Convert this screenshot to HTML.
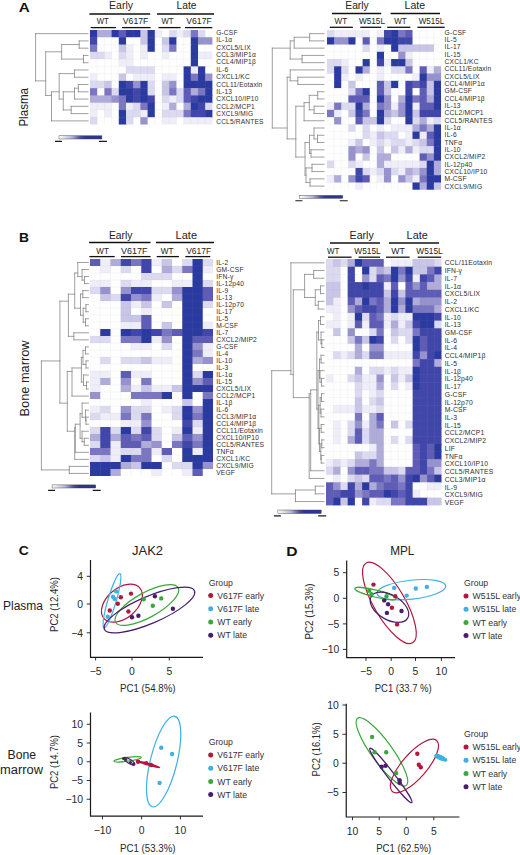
<!DOCTYPE html>
<html><head><meta charset="utf-8"><style>
html,body{margin:0;padding:0;background:#fff;}
svg{display:block;font-family:"Liberation Sans", sans-serif;}
</style></head><body>
<svg width="520" height="855" viewBox="0 0 520 855">
<rect width="520" height="855" fill="#fff"/>
<text x="18.80" y="12.40" font-size="12.60" font-weight="bold" fill="#111" textLength="11.0" lengthAdjust="spacingAndGlyphs">A</text>
<text x="121.00" y="9.40" font-size="10.00" text-anchor="middle" fill="#222" textLength="24.0" lengthAdjust="spacingAndGlyphs">Early</text>
<text x="186.50" y="9.40" font-size="10.00" text-anchor="middle" fill="#222" textLength="20.0" lengthAdjust="spacingAndGlyphs">Late</text>
<path d="M89.40 14.00H150.20" stroke="#111" stroke-width="1.30"/>
<path d="M157.00 14.00H214.00" stroke="#111" stroke-width="1.30"/>
<text x="102.80" y="24.00" font-size="8.60" text-anchor="middle" fill="#222" textLength="12.0" lengthAdjust="spacingAndGlyphs">WT</text>
<text x="135.60" y="24.00" font-size="8.60" text-anchor="middle" fill="#222" textLength="25.5" lengthAdjust="spacingAndGlyphs">V617F</text>
<text x="167.40" y="24.00" font-size="8.60" text-anchor="middle" fill="#222" textLength="12.0" lengthAdjust="spacingAndGlyphs">WT</text>
<text x="199.00" y="24.00" font-size="8.60" text-anchor="middle" fill="#222" textLength="25.5" lengthAdjust="spacingAndGlyphs">V617F</text>
<path d="M90.70 27.60H115.90" stroke="#111" stroke-width="1.30"/>
<path d="M122.00 27.60H150.60" stroke="#111" stroke-width="1.30"/>
<path d="M158.50 27.60H180.60" stroke="#111" stroke-width="1.30"/>
<path d="M185.00 27.60H212.30" stroke="#111" stroke-width="1.30"/>
<rect x="90.00" y="30.00" width="7.80" height="7.87" fill="#2a3aa0"/>
<rect x="97.20" y="30.00" width="7.80" height="7.87" fill="#b0acda"/>
<rect x="104.40" y="30.00" width="7.80" height="7.87" fill="#b0acda"/>
<rect x="111.60" y="30.00" width="7.80" height="7.87" fill="#2a3aa0"/>
<rect x="118.80" y="30.00" width="7.80" height="7.87" fill="#5e5cb6"/>
<rect x="126.00" y="30.00" width="7.80" height="7.87" fill="#2a3aa0"/>
<rect x="133.20" y="30.00" width="7.80" height="7.87" fill="#2a3aa0"/>
<rect x="140.40" y="30.00" width="7.80" height="7.87" fill="#c8c5e6"/>
<rect x="147.60" y="30.00" width="7.80" height="7.87" fill="#2a3aa0"/>
<rect x="154.80" y="30.00" width="7.80" height="7.87" fill="#eeedf8"/>
<rect x="162.00" y="30.00" width="7.80" height="7.87" fill="#fefeff"/>
<rect x="169.20" y="30.00" width="7.80" height="7.87" fill="#dcdaf0"/>
<rect x="176.40" y="30.00" width="7.80" height="7.87" fill="#eeedf8"/>
<rect x="183.60" y="30.00" width="7.80" height="7.87" fill="#dcdaf0"/>
<rect x="190.80" y="30.00" width="7.80" height="7.87" fill="#7a76c2"/>
<rect x="198.00" y="30.00" width="7.80" height="7.87" fill="#dcdaf0"/>
<rect x="205.20" y="30.00" width="7.20" height="7.87" fill="#fefeff"/>
<rect x="90.00" y="37.27" width="7.80" height="7.87" fill="#4046aa"/>
<rect x="97.20" y="37.27" width="7.80" height="7.87" fill="#fefeff"/>
<rect x="104.40" y="37.27" width="7.80" height="7.87" fill="#fefeff"/>
<rect x="111.60" y="37.27" width="7.80" height="7.87" fill="#fefeff"/>
<rect x="118.80" y="37.27" width="7.80" height="7.87" fill="#2a3aa0"/>
<rect x="126.00" y="37.27" width="7.80" height="7.87" fill="#fefeff"/>
<rect x="133.20" y="37.27" width="7.80" height="7.87" fill="#fefeff"/>
<rect x="140.40" y="37.27" width="7.80" height="7.87" fill="#c8c5e6"/>
<rect x="147.60" y="37.27" width="7.80" height="7.87" fill="#2a3aa0"/>
<rect x="154.80" y="37.27" width="7.80" height="7.87" fill="#fefeff"/>
<rect x="162.00" y="37.27" width="7.80" height="7.87" fill="#c8c5e6"/>
<rect x="169.20" y="37.27" width="7.80" height="7.87" fill="#2a3aa0"/>
<rect x="176.40" y="37.27" width="7.80" height="7.87" fill="#fefeff"/>
<rect x="183.60" y="37.27" width="7.80" height="7.87" fill="#fefeff"/>
<rect x="190.80" y="37.27" width="7.80" height="7.87" fill="#2a3aa0"/>
<rect x="198.00" y="37.27" width="7.80" height="7.87" fill="#9692ce"/>
<rect x="205.20" y="37.27" width="7.20" height="7.87" fill="#9692ce"/>
<rect x="90.00" y="44.54" width="7.80" height="7.87" fill="#7a76c2"/>
<rect x="97.20" y="44.54" width="7.80" height="7.87" fill="#fefeff"/>
<rect x="104.40" y="44.54" width="7.80" height="7.87" fill="#fefeff"/>
<rect x="111.60" y="44.54" width="7.80" height="7.87" fill="#fefeff"/>
<rect x="118.80" y="44.54" width="7.80" height="7.87" fill="#c8c5e6"/>
<rect x="126.00" y="44.54" width="7.80" height="7.87" fill="#eeedf8"/>
<rect x="133.20" y="44.54" width="7.80" height="7.87" fill="#fefeff"/>
<rect x="140.40" y="44.54" width="7.80" height="7.87" fill="#eeedf8"/>
<rect x="147.60" y="44.54" width="7.80" height="7.87" fill="#2a3aa0"/>
<rect x="154.80" y="44.54" width="7.80" height="7.87" fill="#fefeff"/>
<rect x="162.00" y="44.54" width="7.80" height="7.87" fill="#dcdaf0"/>
<rect x="169.20" y="44.54" width="7.80" height="7.87" fill="#7a76c2"/>
<rect x="176.40" y="44.54" width="7.80" height="7.87" fill="#fefeff"/>
<rect x="183.60" y="44.54" width="7.80" height="7.87" fill="#fefeff"/>
<rect x="190.80" y="44.54" width="7.80" height="7.87" fill="#2a3aa0"/>
<rect x="198.00" y="44.54" width="7.80" height="7.87" fill="#fefeff"/>
<rect x="205.20" y="44.54" width="7.20" height="7.87" fill="#fefeff"/>
<rect x="90.00" y="51.81" width="7.80" height="7.87" fill="#dcdaf0"/>
<rect x="97.20" y="51.81" width="7.80" height="7.87" fill="#dcdaf0"/>
<rect x="104.40" y="51.81" width="7.80" height="7.87" fill="#eeedf8"/>
<rect x="111.60" y="51.81" width="7.80" height="7.87" fill="#fefeff"/>
<rect x="118.80" y="51.81" width="7.80" height="7.87" fill="#dcdaf0"/>
<rect x="126.00" y="51.81" width="7.80" height="7.87" fill="#eeedf8"/>
<rect x="133.20" y="51.81" width="7.80" height="7.87" fill="#fefeff"/>
<rect x="140.40" y="51.81" width="7.80" height="7.87" fill="#eeedf8"/>
<rect x="147.60" y="51.81" width="7.80" height="7.87" fill="#fefeff"/>
<rect x="154.80" y="51.81" width="7.80" height="7.87" fill="#fefeff"/>
<rect x="162.00" y="51.81" width="7.80" height="7.87" fill="#eeedf8"/>
<rect x="169.20" y="51.81" width="7.80" height="7.87" fill="#fefeff"/>
<rect x="176.40" y="51.81" width="7.80" height="7.87" fill="#fefeff"/>
<rect x="183.60" y="51.81" width="7.80" height="7.87" fill="#fefeff"/>
<rect x="190.80" y="51.81" width="7.80" height="7.87" fill="#2a3aa0"/>
<rect x="198.00" y="51.81" width="7.80" height="7.87" fill="#eeedf8"/>
<rect x="205.20" y="51.81" width="7.20" height="7.87" fill="#eeedf8"/>
<rect x="90.00" y="59.08" width="7.80" height="7.87" fill="#fefeff"/>
<rect x="97.20" y="59.08" width="7.80" height="7.87" fill="#fefeff"/>
<rect x="104.40" y="59.08" width="7.80" height="7.87" fill="#fefeff"/>
<rect x="111.60" y="59.08" width="7.80" height="7.87" fill="#fefeff"/>
<rect x="118.80" y="59.08" width="7.80" height="7.87" fill="#eeedf8"/>
<rect x="126.00" y="59.08" width="7.80" height="7.87" fill="#eeedf8"/>
<rect x="133.20" y="59.08" width="7.80" height="7.87" fill="#fefeff"/>
<rect x="140.40" y="59.08" width="7.80" height="7.87" fill="#fefeff"/>
<rect x="147.60" y="59.08" width="7.80" height="7.87" fill="#fefeff"/>
<rect x="154.80" y="59.08" width="7.80" height="7.87" fill="#fefeff"/>
<rect x="162.00" y="59.08" width="7.80" height="7.87" fill="#fefeff"/>
<rect x="169.20" y="59.08" width="7.80" height="7.87" fill="#fefeff"/>
<rect x="176.40" y="59.08" width="7.80" height="7.87" fill="#fefeff"/>
<rect x="183.60" y="59.08" width="7.80" height="7.87" fill="#fefeff"/>
<rect x="190.80" y="59.08" width="7.80" height="7.87" fill="#2a3aa0"/>
<rect x="198.00" y="59.08" width="7.80" height="7.87" fill="#fefeff"/>
<rect x="205.20" y="59.08" width="7.20" height="7.87" fill="#fefeff"/>
<rect x="90.00" y="66.35" width="7.80" height="7.87" fill="#fefeff"/>
<rect x="97.20" y="66.35" width="7.80" height="7.87" fill="#fefeff"/>
<rect x="104.40" y="66.35" width="7.80" height="7.87" fill="#fefeff"/>
<rect x="111.60" y="66.35" width="7.80" height="7.87" fill="#fefeff"/>
<rect x="118.80" y="66.35" width="7.80" height="7.87" fill="#fefeff"/>
<rect x="126.00" y="66.35" width="7.80" height="7.87" fill="#dcdaf0"/>
<rect x="133.20" y="66.35" width="7.80" height="7.87" fill="#dcdaf0"/>
<rect x="140.40" y="66.35" width="7.80" height="7.87" fill="#dcdaf0"/>
<rect x="147.60" y="66.35" width="7.80" height="7.87" fill="#dcdaf0"/>
<rect x="154.80" y="66.35" width="7.80" height="7.87" fill="#fefeff"/>
<rect x="162.00" y="66.35" width="7.80" height="7.87" fill="#fefeff"/>
<rect x="169.20" y="66.35" width="7.80" height="7.87" fill="#fefeff"/>
<rect x="176.40" y="66.35" width="7.80" height="7.87" fill="#fefeff"/>
<rect x="183.60" y="66.35" width="7.80" height="7.87" fill="#2a3aa0"/>
<rect x="190.80" y="66.35" width="7.80" height="7.87" fill="#eeedf8"/>
<rect x="198.00" y="66.35" width="7.80" height="7.87" fill="#2a3aa0"/>
<rect x="205.20" y="66.35" width="7.20" height="7.87" fill="#fefeff"/>
<rect x="90.00" y="73.62" width="7.80" height="7.87" fill="#eeedf8"/>
<rect x="97.20" y="73.62" width="7.80" height="7.87" fill="#fefeff"/>
<rect x="104.40" y="73.62" width="7.80" height="7.87" fill="#fefeff"/>
<rect x="111.60" y="73.62" width="7.80" height="7.87" fill="#fefeff"/>
<rect x="118.80" y="73.62" width="7.80" height="7.87" fill="#c8c5e6"/>
<rect x="126.00" y="73.62" width="7.80" height="7.87" fill="#fefeff"/>
<rect x="133.20" y="73.62" width="7.80" height="7.87" fill="#eeedf8"/>
<rect x="140.40" y="73.62" width="7.80" height="7.87" fill="#eeedf8"/>
<rect x="147.60" y="73.62" width="7.80" height="7.87" fill="#eeedf8"/>
<rect x="154.80" y="73.62" width="7.80" height="7.87" fill="#fefeff"/>
<rect x="162.00" y="73.62" width="7.80" height="7.87" fill="#eeedf8"/>
<rect x="169.20" y="73.62" width="7.80" height="7.87" fill="#eeedf8"/>
<rect x="176.40" y="73.62" width="7.80" height="7.87" fill="#fefeff"/>
<rect x="183.60" y="73.62" width="7.80" height="7.87" fill="#2a3aa0"/>
<rect x="190.80" y="73.62" width="7.80" height="7.87" fill="#7a76c2"/>
<rect x="198.00" y="73.62" width="7.80" height="7.87" fill="#2a3aa0"/>
<rect x="205.20" y="73.62" width="7.20" height="7.87" fill="#9692ce"/>
<rect x="90.00" y="80.89" width="7.80" height="7.87" fill="#dcdaf0"/>
<rect x="97.20" y="80.89" width="7.80" height="7.87" fill="#dcdaf0"/>
<rect x="104.40" y="80.89" width="7.80" height="7.87" fill="#c8c5e6"/>
<rect x="111.60" y="80.89" width="7.80" height="7.87" fill="#fefeff"/>
<rect x="118.80" y="80.89" width="7.80" height="7.87" fill="#2a3aa0"/>
<rect x="126.00" y="80.89" width="7.80" height="7.87" fill="#4046aa"/>
<rect x="133.20" y="80.89" width="7.80" height="7.87" fill="#9692ce"/>
<rect x="140.40" y="80.89" width="7.80" height="7.87" fill="#2a3aa0"/>
<rect x="147.60" y="80.89" width="7.80" height="7.87" fill="#dcdaf0"/>
<rect x="154.80" y="80.89" width="7.80" height="7.87" fill="#fefeff"/>
<rect x="162.00" y="80.89" width="7.80" height="7.87" fill="#c8c5e6"/>
<rect x="169.20" y="80.89" width="7.80" height="7.87" fill="#9692ce"/>
<rect x="176.40" y="80.89" width="7.80" height="7.87" fill="#fefeff"/>
<rect x="183.60" y="80.89" width="7.80" height="7.87" fill="#2a3aa0"/>
<rect x="190.80" y="80.89" width="7.80" height="7.87" fill="#2a3aa0"/>
<rect x="198.00" y="80.89" width="7.80" height="7.87" fill="#2a3aa0"/>
<rect x="205.20" y="80.89" width="7.20" height="7.87" fill="#2a3aa0"/>
<rect x="90.00" y="88.16" width="7.80" height="7.87" fill="#7a76c2"/>
<rect x="97.20" y="88.16" width="7.80" height="7.87" fill="#fefeff"/>
<rect x="104.40" y="88.16" width="7.80" height="7.87" fill="#7a76c2"/>
<rect x="111.60" y="88.16" width="7.80" height="7.87" fill="#dcdaf0"/>
<rect x="118.80" y="88.16" width="7.80" height="7.87" fill="#2a3aa0"/>
<rect x="126.00" y="88.16" width="7.80" height="7.87" fill="#2a3aa0"/>
<rect x="133.20" y="88.16" width="7.80" height="7.87" fill="#4046aa"/>
<rect x="140.40" y="88.16" width="7.80" height="7.87" fill="#2a3aa0"/>
<rect x="147.60" y="88.16" width="7.80" height="7.87" fill="#dcdaf0"/>
<rect x="154.80" y="88.16" width="7.80" height="7.87" fill="#fefeff"/>
<rect x="162.00" y="88.16" width="7.80" height="7.87" fill="#c8c5e6"/>
<rect x="169.20" y="88.16" width="7.80" height="7.87" fill="#7a76c2"/>
<rect x="176.40" y="88.16" width="7.80" height="7.87" fill="#dcdaf0"/>
<rect x="183.60" y="88.16" width="7.80" height="7.87" fill="#5e5cb6"/>
<rect x="190.80" y="88.16" width="7.80" height="7.87" fill="#b0acda"/>
<rect x="198.00" y="88.16" width="7.80" height="7.87" fill="#7a76c2"/>
<rect x="205.20" y="88.16" width="7.20" height="7.87" fill="#2a3aa0"/>
<rect x="90.00" y="95.43" width="7.80" height="7.87" fill="#b0acda"/>
<rect x="97.20" y="95.43" width="7.80" height="7.87" fill="#b0acda"/>
<rect x="104.40" y="95.43" width="7.80" height="7.87" fill="#b0acda"/>
<rect x="111.60" y="95.43" width="7.80" height="7.87" fill="#9692ce"/>
<rect x="118.80" y="95.43" width="7.80" height="7.87" fill="#7a76c2"/>
<rect x="126.00" y="95.43" width="7.80" height="7.87" fill="#2a3aa0"/>
<rect x="133.20" y="95.43" width="7.80" height="7.87" fill="#4046aa"/>
<rect x="140.40" y="95.43" width="7.80" height="7.87" fill="#2a3aa0"/>
<rect x="147.60" y="95.43" width="7.80" height="7.87" fill="#4046aa"/>
<rect x="154.80" y="95.43" width="7.80" height="7.87" fill="#fefeff"/>
<rect x="162.00" y="95.43" width="7.80" height="7.87" fill="#dcdaf0"/>
<rect x="169.20" y="95.43" width="7.80" height="7.87" fill="#eeedf8"/>
<rect x="176.40" y="95.43" width="7.80" height="7.87" fill="#dcdaf0"/>
<rect x="183.60" y="95.43" width="7.80" height="7.87" fill="#5e5cb6"/>
<rect x="190.80" y="95.43" width="7.80" height="7.87" fill="#4046aa"/>
<rect x="198.00" y="95.43" width="7.80" height="7.87" fill="#2a3aa0"/>
<rect x="205.20" y="95.43" width="7.20" height="7.87" fill="#2a3aa0"/>
<rect x="90.00" y="102.70" width="7.80" height="7.87" fill="#eeedf8"/>
<rect x="97.20" y="102.70" width="7.80" height="7.87" fill="#eeedf8"/>
<rect x="104.40" y="102.70" width="7.80" height="7.87" fill="#eeedf8"/>
<rect x="111.60" y="102.70" width="7.80" height="7.87" fill="#fefeff"/>
<rect x="118.80" y="102.70" width="7.80" height="7.87" fill="#7a76c2"/>
<rect x="126.00" y="102.70" width="7.80" height="7.87" fill="#eeedf8"/>
<rect x="133.20" y="102.70" width="7.80" height="7.87" fill="#dcdaf0"/>
<rect x="140.40" y="102.70" width="7.80" height="7.87" fill="#7a76c2"/>
<rect x="147.60" y="102.70" width="7.80" height="7.87" fill="#2a3aa0"/>
<rect x="154.80" y="102.70" width="7.80" height="7.87" fill="#fefeff"/>
<rect x="162.00" y="102.70" width="7.80" height="7.87" fill="#eeedf8"/>
<rect x="169.20" y="102.70" width="7.80" height="7.87" fill="#b0acda"/>
<rect x="176.40" y="102.70" width="7.80" height="7.87" fill="#fefeff"/>
<rect x="183.60" y="102.70" width="7.80" height="7.87" fill="#b0acda"/>
<rect x="190.80" y="102.70" width="7.80" height="7.87" fill="#2a3aa0"/>
<rect x="198.00" y="102.70" width="7.80" height="7.87" fill="#4046aa"/>
<rect x="205.20" y="102.70" width="7.20" height="7.87" fill="#dcdaf0"/>
<rect x="90.00" y="109.97" width="7.80" height="7.87" fill="#eeedf8"/>
<rect x="97.20" y="109.97" width="7.80" height="7.87" fill="#fefeff"/>
<rect x="104.40" y="109.97" width="7.80" height="7.87" fill="#eeedf8"/>
<rect x="111.60" y="109.97" width="7.80" height="7.87" fill="#fefeff"/>
<rect x="118.80" y="109.97" width="7.80" height="7.87" fill="#2a3aa0"/>
<rect x="126.00" y="109.97" width="7.80" height="7.87" fill="#dcdaf0"/>
<rect x="133.20" y="109.97" width="7.80" height="7.87" fill="#dcdaf0"/>
<rect x="140.40" y="109.97" width="7.80" height="7.87" fill="#eeedf8"/>
<rect x="147.60" y="109.97" width="7.80" height="7.87" fill="#2a3aa0"/>
<rect x="154.80" y="109.97" width="7.80" height="7.87" fill="#fefeff"/>
<rect x="162.00" y="109.97" width="7.80" height="7.87" fill="#dcdaf0"/>
<rect x="169.20" y="109.97" width="7.80" height="7.87" fill="#dcdaf0"/>
<rect x="176.40" y="109.97" width="7.80" height="7.87" fill="#dcdaf0"/>
<rect x="183.60" y="109.97" width="7.80" height="7.87" fill="#7a76c2"/>
<rect x="190.80" y="109.97" width="7.80" height="7.87" fill="#4046aa"/>
<rect x="198.00" y="109.97" width="7.80" height="7.87" fill="#4046aa"/>
<rect x="205.20" y="109.97" width="7.20" height="7.87" fill="#2a3aa0"/>
<rect x="90.00" y="117.24" width="7.80" height="7.27" fill="#dcdaf0"/>
<rect x="97.20" y="117.24" width="7.80" height="7.27" fill="#fefeff"/>
<rect x="104.40" y="117.24" width="7.80" height="7.27" fill="#fefeff"/>
<rect x="111.60" y="117.24" width="7.80" height="7.27" fill="#fefeff"/>
<rect x="118.80" y="117.24" width="7.80" height="7.27" fill="#2a3aa0"/>
<rect x="126.00" y="117.24" width="7.80" height="7.27" fill="#dcdaf0"/>
<rect x="133.20" y="117.24" width="7.80" height="7.27" fill="#fefeff"/>
<rect x="140.40" y="117.24" width="7.80" height="7.27" fill="#9692ce"/>
<rect x="147.60" y="117.24" width="7.80" height="7.27" fill="#fefeff"/>
<rect x="154.80" y="117.24" width="7.80" height="7.27" fill="#fefeff"/>
<rect x="162.00" y="117.24" width="7.80" height="7.27" fill="#eeedf8"/>
<rect x="169.20" y="117.24" width="7.80" height="7.27" fill="#eeedf8"/>
<rect x="176.40" y="117.24" width="7.80" height="7.27" fill="#fefeff"/>
<rect x="183.60" y="117.24" width="7.80" height="7.27" fill="#eeedf8"/>
<rect x="190.80" y="117.24" width="7.80" height="7.27" fill="#eeedf8"/>
<rect x="198.00" y="117.24" width="7.80" height="7.27" fill="#eeedf8"/>
<rect x="205.20" y="117.24" width="7.20" height="7.27" fill="#eeedf8"/>
<path d="M97.20 30.00V124.51M104.40 30.00V124.51M111.60 30.00V124.51M118.80 30.00V124.51M126.00 30.00V124.51M133.20 30.00V124.51M140.40 30.00V124.51M147.60 30.00V124.51M154.80 30.00V124.51M162.00 30.00V124.51M169.20 30.00V124.51M176.40 30.00V124.51M183.60 30.00V124.51M190.80 30.00V124.51M198.00 30.00V124.51M205.20 30.00V124.51M90.00 37.27H212.40M90.00 44.54H212.40M90.00 51.81H212.40M90.00 59.08H212.40M90.00 66.35H212.40M90.00 73.62H212.40M90.00 80.89H212.40M90.00 88.16H212.40M90.00 95.43H212.40M90.00 102.70H212.40M90.00 109.97H212.40M90.00 117.24H212.40" stroke="#999" stroke-opacity="0.14" stroke-width="0.5" fill="none"/>
<text x="216.20" y="34.85" font-size="6.60" fill="#2e2e2e" letter-spacing="0.18">G-CSF</text>
<text x="216.20" y="42.24" font-size="6.60" fill="#2e2e2e" letter-spacing="0.18">IL-1α</text>
<text x="216.20" y="49.63" font-size="6.60" fill="#2e2e2e" letter-spacing="0.18">CXCL5/LIX</text>
<text x="216.20" y="57.02" font-size="6.60" fill="#2e2e2e" letter-spacing="0.18">CCL3/MIP1α</text>
<text x="216.20" y="64.41" font-size="6.60" fill="#2e2e2e" letter-spacing="0.18">CCL4/MIP1β</text>
<text x="216.20" y="71.80" font-size="6.60" fill="#2e2e2e" letter-spacing="0.18">IL-6</text>
<text x="216.20" y="79.19" font-size="6.60" fill="#2e2e2e" letter-spacing="0.18">CXCL1/KC</text>
<text x="216.20" y="86.58" font-size="6.60" fill="#2e2e2e" letter-spacing="0.18">CCL11/Eotaxin</text>
<text x="216.20" y="93.97" font-size="6.60" fill="#2e2e2e" letter-spacing="0.18">IL-13</text>
<text x="216.20" y="101.36" font-size="6.60" fill="#2e2e2e" letter-spacing="0.18">CXCL10/IP10</text>
<text x="216.20" y="108.75" font-size="6.60" fill="#2e2e2e" letter-spacing="0.18">CCL2/MCP1</text>
<text x="216.20" y="116.14" font-size="6.60" fill="#2e2e2e" letter-spacing="0.18">CXCL9/MIG</text>
<text x="216.20" y="123.53" font-size="6.60" fill="#2e2e2e" letter-spacing="0.18">CCL5/RANTES</text>
<path d="M88.00 40.91H79.20M88.00 48.17H79.20M79.20 40.91V48.17M88.00 55.45H83.50M88.00 62.71H83.50M83.50 55.45V62.71M79.20 44.54H61.60M83.50 59.08H61.60M61.60 44.54V59.08M88.00 69.98H74.50M88.00 77.25H74.50M74.50 69.98V77.25M88.00 84.53H78.40M88.00 91.79H78.40M78.40 84.53V91.79M78.40 88.16H74.50M88.00 99.06H74.50M74.50 88.16V99.06M88.00 106.33H71.20M88.00 113.60H71.20M71.20 106.33V113.60M74.50 91.80H63.30M71.20 109.97H63.30M63.30 91.80V109.97M74.50 73.62H59.20M63.30 99.06H59.20M59.20 73.62V99.06M59.20 91.79H51.50M88.00 120.88H51.50M51.50 91.79V120.88M61.60 51.81H45.70M51.50 95.43H45.70M45.70 51.81V95.43M88.00 33.63H35.60M45.70 80.89H35.60M35.60 33.63V80.89" stroke="#888888" stroke-width="0.80" fill="none" stroke-linecap="square"/>
<text transform="translate(28.1 107.3) rotate(-90)" font-size="12" text-anchor="middle" fill="#222" textLength="38.6" lengthAdjust="spacingAndGlyphs">Plasma</text>
<defs><linearGradient id="g250" x1="0" x2="1" y1="0" y2="0"><stop offset="0" stop-color="#ffffff"/><stop offset="0.3" stop-color="#b4b4d6"/><stop offset="0.5" stop-color="#4a4c9a"/><stop offset="0.62" stop-color="#2e3490"/><stop offset="1" stop-color="#2c3592"/></linearGradient></defs>
<rect x="59.00" y="135.80" width="42.90" height="3.20" fill="url(#g250)" stroke="#333" stroke-width="0.4"/>
<path d="M55.00 141.40H62.00M98.90 141.40H106.90" stroke="#1a1a1a" stroke-width="1.1"/>
<text x="357.00" y="9.40" font-size="10.00" text-anchor="middle" fill="#222" textLength="23.5" lengthAdjust="spacingAndGlyphs">Early</text>
<text x="414.80" y="9.40" font-size="10.00" text-anchor="middle" fill="#222" textLength="20.5" lengthAdjust="spacingAndGlyphs">Late</text>
<path d="M332.00 13.50H381.20" stroke="#111" stroke-width="1.30"/>
<path d="M390.60 13.50H440.00" stroke="#111" stroke-width="1.30"/>
<text x="340.80" y="24.00" font-size="8.60" text-anchor="middle" fill="#222" textLength="12.5" lengthAdjust="spacingAndGlyphs">WT</text>
<text x="372.00" y="24.00" font-size="8.60" text-anchor="middle" fill="#222" textLength="26.0" lengthAdjust="spacingAndGlyphs">W515L</text>
<text x="400.50" y="24.00" font-size="8.60" text-anchor="middle" fill="#222" textLength="12.5" lengthAdjust="spacingAndGlyphs">WT</text>
<text x="431.50" y="24.00" font-size="8.60" text-anchor="middle" fill="#222" textLength="25.5" lengthAdjust="spacingAndGlyphs">W515L</text>
<path d="M329.80 27.30H352.90" stroke="#111" stroke-width="1.30"/>
<path d="M360.30 27.30H381.20" stroke="#111" stroke-width="1.30"/>
<path d="M387.20 27.30H410.40" stroke="#111" stroke-width="1.30"/>
<path d="M417.40 27.30H444.70" stroke="#111" stroke-width="1.30"/>
<rect x="327.00" y="30.00" width="7.72" height="7.86" fill="#dcdaf0"/>
<rect x="334.12" y="30.00" width="7.72" height="7.86" fill="#eeedf8"/>
<rect x="341.25" y="30.00" width="7.72" height="7.86" fill="#eeedf8"/>
<rect x="348.38" y="30.00" width="7.72" height="7.86" fill="#eeedf8"/>
<rect x="355.50" y="30.00" width="7.72" height="7.86" fill="#eeedf8"/>
<rect x="362.62" y="30.00" width="7.72" height="7.86" fill="#eeedf8"/>
<rect x="369.75" y="30.00" width="7.72" height="7.86" fill="#fefeff"/>
<rect x="376.88" y="30.00" width="7.72" height="7.86" fill="#eeedf8"/>
<rect x="384.00" y="30.00" width="7.72" height="7.86" fill="#4046aa"/>
<rect x="391.12" y="30.00" width="7.72" height="7.86" fill="#2a3aa0"/>
<rect x="398.25" y="30.00" width="7.72" height="7.86" fill="#7a76c2"/>
<rect x="405.38" y="30.00" width="7.72" height="7.86" fill="#5e5cb6"/>
<rect x="412.50" y="30.00" width="7.72" height="7.86" fill="#fefeff"/>
<rect x="419.62" y="30.00" width="7.72" height="7.86" fill="#fefeff"/>
<rect x="426.75" y="30.00" width="7.72" height="7.86" fill="#fefeff"/>
<rect x="433.88" y="30.00" width="7.12" height="7.86" fill="#fefeff"/>
<rect x="327.00" y="37.26" width="7.72" height="7.86" fill="#2a3aa0"/>
<rect x="334.12" y="37.26" width="7.72" height="7.86" fill="#9692ce"/>
<rect x="341.25" y="37.26" width="7.72" height="7.86" fill="#9692ce"/>
<rect x="348.38" y="37.26" width="7.72" height="7.86" fill="#2a3aa0"/>
<rect x="355.50" y="37.26" width="7.72" height="7.86" fill="#fefeff"/>
<rect x="362.62" y="37.26" width="7.72" height="7.86" fill="#5e5cb6"/>
<rect x="369.75" y="37.26" width="7.72" height="7.86" fill="#fefeff"/>
<rect x="376.88" y="37.26" width="7.72" height="7.86" fill="#7a76c2"/>
<rect x="384.00" y="37.26" width="7.72" height="7.86" fill="#2a3aa0"/>
<rect x="391.12" y="37.26" width="7.72" height="7.86" fill="#2a3aa0"/>
<rect x="398.25" y="37.26" width="7.72" height="7.86" fill="#4046aa"/>
<rect x="405.38" y="37.26" width="7.72" height="7.86" fill="#4046aa"/>
<rect x="412.50" y="37.26" width="7.72" height="7.86" fill="#fefeff"/>
<rect x="419.62" y="37.26" width="7.72" height="7.86" fill="#fefeff"/>
<rect x="426.75" y="37.26" width="7.72" height="7.86" fill="#fefeff"/>
<rect x="433.88" y="37.26" width="7.12" height="7.86" fill="#fefeff"/>
<rect x="327.00" y="44.52" width="7.72" height="7.86" fill="#fefeff"/>
<rect x="334.12" y="44.52" width="7.72" height="7.86" fill="#fefeff"/>
<rect x="341.25" y="44.52" width="7.72" height="7.86" fill="#fefeff"/>
<rect x="348.38" y="44.52" width="7.72" height="7.86" fill="#fefeff"/>
<rect x="355.50" y="44.52" width="7.72" height="7.86" fill="#fefeff"/>
<rect x="362.62" y="44.52" width="7.72" height="7.86" fill="#dcdaf0"/>
<rect x="369.75" y="44.52" width="7.72" height="7.86" fill="#fefeff"/>
<rect x="376.88" y="44.52" width="7.72" height="7.86" fill="#eeedf8"/>
<rect x="384.00" y="44.52" width="7.72" height="7.86" fill="#fefeff"/>
<rect x="391.12" y="44.52" width="7.72" height="7.86" fill="#2a3aa0"/>
<rect x="398.25" y="44.52" width="7.72" height="7.86" fill="#c8c5e6"/>
<rect x="405.38" y="44.52" width="7.72" height="7.86" fill="#c8c5e6"/>
<rect x="412.50" y="44.52" width="7.72" height="7.86" fill="#c8c5e6"/>
<rect x="419.62" y="44.52" width="7.72" height="7.86" fill="#c8c5e6"/>
<rect x="426.75" y="44.52" width="7.72" height="7.86" fill="#c8c5e6"/>
<rect x="433.88" y="44.52" width="7.12" height="7.86" fill="#fefeff"/>
<rect x="327.00" y="51.78" width="7.72" height="7.86" fill="#fefeff"/>
<rect x="334.12" y="51.78" width="7.72" height="7.86" fill="#fefeff"/>
<rect x="341.25" y="51.78" width="7.72" height="7.86" fill="#fefeff"/>
<rect x="348.38" y="51.78" width="7.72" height="7.86" fill="#fefeff"/>
<rect x="355.50" y="51.78" width="7.72" height="7.86" fill="#fefeff"/>
<rect x="362.62" y="51.78" width="7.72" height="7.86" fill="#fefeff"/>
<rect x="369.75" y="51.78" width="7.72" height="7.86" fill="#fefeff"/>
<rect x="376.88" y="51.78" width="7.72" height="7.86" fill="#2a3aa0"/>
<rect x="384.00" y="51.78" width="7.72" height="7.86" fill="#fefeff"/>
<rect x="391.12" y="51.78" width="7.72" height="7.86" fill="#fefeff"/>
<rect x="398.25" y="51.78" width="7.72" height="7.86" fill="#9692ce"/>
<rect x="405.38" y="51.78" width="7.72" height="7.86" fill="#eeedf8"/>
<rect x="412.50" y="51.78" width="7.72" height="7.86" fill="#fefeff"/>
<rect x="419.62" y="51.78" width="7.72" height="7.86" fill="#fefeff"/>
<rect x="426.75" y="51.78" width="7.72" height="7.86" fill="#fefeff"/>
<rect x="433.88" y="51.78" width="7.12" height="7.86" fill="#fefeff"/>
<rect x="327.00" y="59.04" width="7.72" height="7.86" fill="#dcdaf0"/>
<rect x="334.12" y="59.04" width="7.72" height="7.86" fill="#dcdaf0"/>
<rect x="341.25" y="59.04" width="7.72" height="7.86" fill="#eeedf8"/>
<rect x="348.38" y="59.04" width="7.72" height="7.86" fill="#fefeff"/>
<rect x="355.50" y="59.04" width="7.72" height="7.86" fill="#fefeff"/>
<rect x="362.62" y="59.04" width="7.72" height="7.86" fill="#2a3aa0"/>
<rect x="369.75" y="59.04" width="7.72" height="7.86" fill="#fefeff"/>
<rect x="376.88" y="59.04" width="7.72" height="7.86" fill="#4046aa"/>
<rect x="384.00" y="59.04" width="7.72" height="7.86" fill="#eeedf8"/>
<rect x="391.12" y="59.04" width="7.72" height="7.86" fill="#2a3aa0"/>
<rect x="398.25" y="59.04" width="7.72" height="7.86" fill="#2a3aa0"/>
<rect x="405.38" y="59.04" width="7.72" height="7.86" fill="#c8c5e6"/>
<rect x="412.50" y="59.04" width="7.72" height="7.86" fill="#fefeff"/>
<rect x="419.62" y="59.04" width="7.72" height="7.86" fill="#fefeff"/>
<rect x="426.75" y="59.04" width="7.72" height="7.86" fill="#fefeff"/>
<rect x="433.88" y="59.04" width="7.12" height="7.86" fill="#fefeff"/>
<rect x="327.00" y="66.30" width="7.72" height="7.86" fill="#dcdaf0"/>
<rect x="334.12" y="66.30" width="7.72" height="7.86" fill="#2a3aa0"/>
<rect x="341.25" y="66.30" width="7.72" height="7.86" fill="#dcdaf0"/>
<rect x="348.38" y="66.30" width="7.72" height="7.86" fill="#fefeff"/>
<rect x="355.50" y="66.30" width="7.72" height="7.86" fill="#2a3aa0"/>
<rect x="362.62" y="66.30" width="7.72" height="7.86" fill="#b0acda"/>
<rect x="369.75" y="66.30" width="7.72" height="7.86" fill="#fefeff"/>
<rect x="376.88" y="66.30" width="7.72" height="7.86" fill="#eeedf8"/>
<rect x="384.00" y="66.30" width="7.72" height="7.86" fill="#fefeff"/>
<rect x="391.12" y="66.30" width="7.72" height="7.86" fill="#dcdaf0"/>
<rect x="398.25" y="66.30" width="7.72" height="7.86" fill="#dcdaf0"/>
<rect x="405.38" y="66.30" width="7.72" height="7.86" fill="#7a76c2"/>
<rect x="412.50" y="66.30" width="7.72" height="7.86" fill="#fefeff"/>
<rect x="419.62" y="66.30" width="7.72" height="7.86" fill="#5e5cb6"/>
<rect x="426.75" y="66.30" width="7.72" height="7.86" fill="#eeedf8"/>
<rect x="433.88" y="66.30" width="7.12" height="7.86" fill="#b0acda"/>
<rect x="327.00" y="73.56" width="7.72" height="7.86" fill="#fefeff"/>
<rect x="334.12" y="73.56" width="7.72" height="7.86" fill="#2a3aa0"/>
<rect x="341.25" y="73.56" width="7.72" height="7.86" fill="#eeedf8"/>
<rect x="348.38" y="73.56" width="7.72" height="7.86" fill="#fefeff"/>
<rect x="355.50" y="73.56" width="7.72" height="7.86" fill="#eeedf8"/>
<rect x="362.62" y="73.56" width="7.72" height="7.86" fill="#fefeff"/>
<rect x="369.75" y="73.56" width="7.72" height="7.86" fill="#fefeff"/>
<rect x="376.88" y="73.56" width="7.72" height="7.86" fill="#eeedf8"/>
<rect x="384.00" y="73.56" width="7.72" height="7.86" fill="#fefeff"/>
<rect x="391.12" y="73.56" width="7.72" height="7.86" fill="#fefeff"/>
<rect x="398.25" y="73.56" width="7.72" height="7.86" fill="#fefeff"/>
<rect x="405.38" y="73.56" width="7.72" height="7.86" fill="#fefeff"/>
<rect x="412.50" y="73.56" width="7.72" height="7.86" fill="#eeedf8"/>
<rect x="419.62" y="73.56" width="7.72" height="7.86" fill="#2a3aa0"/>
<rect x="426.75" y="73.56" width="7.72" height="7.86" fill="#9692ce"/>
<rect x="433.88" y="73.56" width="7.12" height="7.86" fill="#9692ce"/>
<rect x="327.00" y="80.82" width="7.72" height="7.86" fill="#fefeff"/>
<rect x="334.12" y="80.82" width="7.72" height="7.86" fill="#2a3aa0"/>
<rect x="341.25" y="80.82" width="7.72" height="7.86" fill="#fefeff"/>
<rect x="348.38" y="80.82" width="7.72" height="7.86" fill="#c8c5e6"/>
<rect x="355.50" y="80.82" width="7.72" height="7.86" fill="#fefeff"/>
<rect x="362.62" y="80.82" width="7.72" height="7.86" fill="#fefeff"/>
<rect x="369.75" y="80.82" width="7.72" height="7.86" fill="#fefeff"/>
<rect x="376.88" y="80.82" width="7.72" height="7.86" fill="#5e5cb6"/>
<rect x="384.00" y="80.82" width="7.72" height="7.86" fill="#c8c5e6"/>
<rect x="391.12" y="80.82" width="7.72" height="7.86" fill="#2a3aa0"/>
<rect x="398.25" y="80.82" width="7.72" height="7.86" fill="#fefeff"/>
<rect x="405.38" y="80.82" width="7.72" height="7.86" fill="#4046aa"/>
<rect x="412.50" y="80.82" width="7.72" height="7.86" fill="#5e5cb6"/>
<rect x="419.62" y="80.82" width="7.72" height="7.86" fill="#4046aa"/>
<rect x="426.75" y="80.82" width="7.72" height="7.86" fill="#c8c5e6"/>
<rect x="433.88" y="80.82" width="7.12" height="7.86" fill="#2a3aa0"/>
<rect x="327.00" y="88.08" width="7.72" height="7.86" fill="#fefeff"/>
<rect x="334.12" y="88.08" width="7.72" height="7.86" fill="#fefeff"/>
<rect x="341.25" y="88.08" width="7.72" height="7.86" fill="#fefeff"/>
<rect x="348.38" y="88.08" width="7.72" height="7.86" fill="#dcdaf0"/>
<rect x="355.50" y="88.08" width="7.72" height="7.86" fill="#7a76c2"/>
<rect x="362.62" y="88.08" width="7.72" height="7.86" fill="#2a3aa0"/>
<rect x="369.75" y="88.08" width="7.72" height="7.86" fill="#fefeff"/>
<rect x="376.88" y="88.08" width="7.72" height="7.86" fill="#5e5cb6"/>
<rect x="384.00" y="88.08" width="7.72" height="7.86" fill="#c8c5e6"/>
<rect x="391.12" y="88.08" width="7.72" height="7.86" fill="#fefeff"/>
<rect x="398.25" y="88.08" width="7.72" height="7.86" fill="#fefeff"/>
<rect x="405.38" y="88.08" width="7.72" height="7.86" fill="#4046aa"/>
<rect x="412.50" y="88.08" width="7.72" height="7.86" fill="#fefeff"/>
<rect x="419.62" y="88.08" width="7.72" height="7.86" fill="#5e5cb6"/>
<rect x="426.75" y="88.08" width="7.72" height="7.86" fill="#c8c5e6"/>
<rect x="433.88" y="88.08" width="7.12" height="7.86" fill="#2a3aa0"/>
<rect x="327.00" y="95.34" width="7.72" height="7.86" fill="#fefeff"/>
<rect x="334.12" y="95.34" width="7.72" height="7.86" fill="#fefeff"/>
<rect x="341.25" y="95.34" width="7.72" height="7.86" fill="#fefeff"/>
<rect x="348.38" y="95.34" width="7.72" height="7.86" fill="#5e5cb6"/>
<rect x="355.50" y="95.34" width="7.72" height="7.86" fill="#5e5cb6"/>
<rect x="362.62" y="95.34" width="7.72" height="7.86" fill="#5e5cb6"/>
<rect x="369.75" y="95.34" width="7.72" height="7.86" fill="#fefeff"/>
<rect x="376.88" y="95.34" width="7.72" height="7.86" fill="#2a3aa0"/>
<rect x="384.00" y="95.34" width="7.72" height="7.86" fill="#9692ce"/>
<rect x="391.12" y="95.34" width="7.72" height="7.86" fill="#fefeff"/>
<rect x="398.25" y="95.34" width="7.72" height="7.86" fill="#b0acda"/>
<rect x="405.38" y="95.34" width="7.72" height="7.86" fill="#2a3aa0"/>
<rect x="412.50" y="95.34" width="7.72" height="7.86" fill="#7a76c2"/>
<rect x="419.62" y="95.34" width="7.72" height="7.86" fill="#5e5cb6"/>
<rect x="426.75" y="95.34" width="7.72" height="7.86" fill="#b0acda"/>
<rect x="433.88" y="95.34" width="7.12" height="7.86" fill="#2a3aa0"/>
<rect x="327.00" y="102.60" width="7.72" height="7.86" fill="#eeedf8"/>
<rect x="334.12" y="102.60" width="7.72" height="7.86" fill="#7a76c2"/>
<rect x="341.25" y="102.60" width="7.72" height="7.86" fill="#dcdaf0"/>
<rect x="348.38" y="102.60" width="7.72" height="7.86" fill="#dcdaf0"/>
<rect x="355.50" y="102.60" width="7.72" height="7.86" fill="#2a3aa0"/>
<rect x="362.62" y="102.60" width="7.72" height="7.86" fill="#b0acda"/>
<rect x="369.75" y="102.60" width="7.72" height="7.86" fill="#fefeff"/>
<rect x="376.88" y="102.60" width="7.72" height="7.86" fill="#7a76c2"/>
<rect x="384.00" y="102.60" width="7.72" height="7.86" fill="#9692ce"/>
<rect x="391.12" y="102.60" width="7.72" height="7.86" fill="#eeedf8"/>
<rect x="398.25" y="102.60" width="7.72" height="7.86" fill="#9692ce"/>
<rect x="405.38" y="102.60" width="7.72" height="7.86" fill="#2a3aa0"/>
<rect x="412.50" y="102.60" width="7.72" height="7.86" fill="#eeedf8"/>
<rect x="419.62" y="102.60" width="7.72" height="7.86" fill="#5e5cb6"/>
<rect x="426.75" y="102.60" width="7.72" height="7.86" fill="#5e5cb6"/>
<rect x="433.88" y="102.60" width="7.12" height="7.86" fill="#2a3aa0"/>
<rect x="327.00" y="109.86" width="7.72" height="7.86" fill="#7a76c2"/>
<rect x="334.12" y="109.86" width="7.72" height="7.86" fill="#eeedf8"/>
<rect x="341.25" y="109.86" width="7.72" height="7.86" fill="#fefeff"/>
<rect x="348.38" y="109.86" width="7.72" height="7.86" fill="#c8c5e6"/>
<rect x="355.50" y="109.86" width="7.72" height="7.86" fill="#4046aa"/>
<rect x="362.62" y="109.86" width="7.72" height="7.86" fill="#7a76c2"/>
<rect x="369.75" y="109.86" width="7.72" height="7.86" fill="#fefeff"/>
<rect x="376.88" y="109.86" width="7.72" height="7.86" fill="#2a3aa0"/>
<rect x="384.00" y="109.86" width="7.72" height="7.86" fill="#b0acda"/>
<rect x="391.12" y="109.86" width="7.72" height="7.86" fill="#c8c5e6"/>
<rect x="398.25" y="109.86" width="7.72" height="7.86" fill="#9692ce"/>
<rect x="405.38" y="109.86" width="7.72" height="7.86" fill="#2a3aa0"/>
<rect x="412.50" y="109.86" width="7.72" height="7.86" fill="#c8c5e6"/>
<rect x="419.62" y="109.86" width="7.72" height="7.86" fill="#4046aa"/>
<rect x="426.75" y="109.86" width="7.72" height="7.86" fill="#4046aa"/>
<rect x="433.88" y="109.86" width="7.12" height="7.86" fill="#4046aa"/>
<rect x="327.00" y="117.12" width="7.72" height="7.86" fill="#fefeff"/>
<rect x="334.12" y="117.12" width="7.72" height="7.86" fill="#9692ce"/>
<rect x="341.25" y="117.12" width="7.72" height="7.86" fill="#fefeff"/>
<rect x="348.38" y="117.12" width="7.72" height="7.86" fill="#fefeff"/>
<rect x="355.50" y="117.12" width="7.72" height="7.86" fill="#5e5cb6"/>
<rect x="362.62" y="117.12" width="7.72" height="7.86" fill="#c8c5e6"/>
<rect x="369.75" y="117.12" width="7.72" height="7.86" fill="#c8c5e6"/>
<rect x="376.88" y="117.12" width="7.72" height="7.86" fill="#2a3aa0"/>
<rect x="384.00" y="117.12" width="7.72" height="7.86" fill="#dcdaf0"/>
<rect x="391.12" y="117.12" width="7.72" height="7.86" fill="#fefeff"/>
<rect x="398.25" y="117.12" width="7.72" height="7.86" fill="#fefeff"/>
<rect x="405.38" y="117.12" width="7.72" height="7.86" fill="#2a3aa0"/>
<rect x="412.50" y="117.12" width="7.72" height="7.86" fill="#dcdaf0"/>
<rect x="419.62" y="117.12" width="7.72" height="7.86" fill="#b0acda"/>
<rect x="426.75" y="117.12" width="7.72" height="7.86" fill="#eeedf8"/>
<rect x="433.88" y="117.12" width="7.12" height="7.86" fill="#dcdaf0"/>
<rect x="327.00" y="124.38" width="7.72" height="7.86" fill="#fefeff"/>
<rect x="334.12" y="124.38" width="7.72" height="7.86" fill="#fefeff"/>
<rect x="341.25" y="124.38" width="7.72" height="7.86" fill="#fefeff"/>
<rect x="348.38" y="124.38" width="7.72" height="7.86" fill="#dcdaf0"/>
<rect x="355.50" y="124.38" width="7.72" height="7.86" fill="#fefeff"/>
<rect x="362.62" y="124.38" width="7.72" height="7.86" fill="#dcdaf0"/>
<rect x="369.75" y="124.38" width="7.72" height="7.86" fill="#fefeff"/>
<rect x="376.88" y="124.38" width="7.72" height="7.86" fill="#eeedf8"/>
<rect x="384.00" y="124.38" width="7.72" height="7.86" fill="#fefeff"/>
<rect x="391.12" y="124.38" width="7.72" height="7.86" fill="#eeedf8"/>
<rect x="398.25" y="124.38" width="7.72" height="7.86" fill="#eeedf8"/>
<rect x="405.38" y="124.38" width="7.72" height="7.86" fill="#eeedf8"/>
<rect x="412.50" y="124.38" width="7.72" height="7.86" fill="#b0acda"/>
<rect x="419.62" y="124.38" width="7.72" height="7.86" fill="#7a76c2"/>
<rect x="426.75" y="124.38" width="7.72" height="7.86" fill="#b0acda"/>
<rect x="433.88" y="124.38" width="7.12" height="7.86" fill="#2a3aa0"/>
<rect x="327.00" y="131.64" width="7.72" height="7.86" fill="#fefeff"/>
<rect x="334.12" y="131.64" width="7.72" height="7.86" fill="#fefeff"/>
<rect x="341.25" y="131.64" width="7.72" height="7.86" fill="#fefeff"/>
<rect x="348.38" y="131.64" width="7.72" height="7.86" fill="#fefeff"/>
<rect x="355.50" y="131.64" width="7.72" height="7.86" fill="#fefeff"/>
<rect x="362.62" y="131.64" width="7.72" height="7.86" fill="#dcdaf0"/>
<rect x="369.75" y="131.64" width="7.72" height="7.86" fill="#eeedf8"/>
<rect x="376.88" y="131.64" width="7.72" height="7.86" fill="#c8c5e6"/>
<rect x="384.00" y="131.64" width="7.72" height="7.86" fill="#dcdaf0"/>
<rect x="391.12" y="131.64" width="7.72" height="7.86" fill="#dcdaf0"/>
<rect x="398.25" y="131.64" width="7.72" height="7.86" fill="#fefeff"/>
<rect x="405.38" y="131.64" width="7.72" height="7.86" fill="#eeedf8"/>
<rect x="412.50" y="131.64" width="7.72" height="7.86" fill="#2a3aa0"/>
<rect x="419.62" y="131.64" width="7.72" height="7.86" fill="#eeedf8"/>
<rect x="426.75" y="131.64" width="7.72" height="7.86" fill="#5e5cb6"/>
<rect x="433.88" y="131.64" width="7.12" height="7.86" fill="#2a3aa0"/>
<rect x="327.00" y="138.90" width="7.72" height="7.86" fill="#fefeff"/>
<rect x="334.12" y="138.90" width="7.72" height="7.86" fill="#fefeff"/>
<rect x="341.25" y="138.90" width="7.72" height="7.86" fill="#fefeff"/>
<rect x="348.38" y="138.90" width="7.72" height="7.86" fill="#eeedf8"/>
<rect x="355.50" y="138.90" width="7.72" height="7.86" fill="#c8c5e6"/>
<rect x="362.62" y="138.90" width="7.72" height="7.86" fill="#fefeff"/>
<rect x="369.75" y="138.90" width="7.72" height="7.86" fill="#eeedf8"/>
<rect x="376.88" y="138.90" width="7.72" height="7.86" fill="#dcdaf0"/>
<rect x="384.00" y="138.90" width="7.72" height="7.86" fill="#eeedf8"/>
<rect x="391.12" y="138.90" width="7.72" height="7.86" fill="#dcdaf0"/>
<rect x="398.25" y="138.90" width="7.72" height="7.86" fill="#dcdaf0"/>
<rect x="405.38" y="138.90" width="7.72" height="7.86" fill="#eeedf8"/>
<rect x="412.50" y="138.90" width="7.72" height="7.86" fill="#dcdaf0"/>
<rect x="419.62" y="138.90" width="7.72" height="7.86" fill="#c8c5e6"/>
<rect x="426.75" y="138.90" width="7.72" height="7.86" fill="#7a76c2"/>
<rect x="433.88" y="138.90" width="7.12" height="7.86" fill="#2a3aa0"/>
<rect x="327.00" y="146.16" width="7.72" height="7.86" fill="#fefeff"/>
<rect x="334.12" y="146.16" width="7.72" height="7.86" fill="#fefeff"/>
<rect x="341.25" y="146.16" width="7.72" height="7.86" fill="#fefeff"/>
<rect x="348.38" y="146.16" width="7.72" height="7.86" fill="#9692ce"/>
<rect x="355.50" y="146.16" width="7.72" height="7.86" fill="#b0acda"/>
<rect x="362.62" y="146.16" width="7.72" height="7.86" fill="#9692ce"/>
<rect x="369.75" y="146.16" width="7.72" height="7.86" fill="#fefeff"/>
<rect x="376.88" y="146.16" width="7.72" height="7.86" fill="#c8c5e6"/>
<rect x="384.00" y="146.16" width="7.72" height="7.86" fill="#fefeff"/>
<rect x="391.12" y="146.16" width="7.72" height="7.86" fill="#c8c5e6"/>
<rect x="398.25" y="146.16" width="7.72" height="7.86" fill="#eeedf8"/>
<rect x="405.38" y="146.16" width="7.72" height="7.86" fill="#b0acda"/>
<rect x="412.50" y="146.16" width="7.72" height="7.86" fill="#eeedf8"/>
<rect x="419.62" y="146.16" width="7.72" height="7.86" fill="#dcdaf0"/>
<rect x="426.75" y="146.16" width="7.72" height="7.86" fill="#dcdaf0"/>
<rect x="433.88" y="146.16" width="7.12" height="7.86" fill="#2a3aa0"/>
<rect x="327.00" y="153.42" width="7.72" height="7.86" fill="#fefeff"/>
<rect x="334.12" y="153.42" width="7.72" height="7.86" fill="#fefeff"/>
<rect x="341.25" y="153.42" width="7.72" height="7.86" fill="#fefeff"/>
<rect x="348.38" y="153.42" width="7.72" height="7.86" fill="#9692ce"/>
<rect x="355.50" y="153.42" width="7.72" height="7.86" fill="#fefeff"/>
<rect x="362.62" y="153.42" width="7.72" height="7.86" fill="#c8c5e6"/>
<rect x="369.75" y="153.42" width="7.72" height="7.86" fill="#fefeff"/>
<rect x="376.88" y="153.42" width="7.72" height="7.86" fill="#b0acda"/>
<rect x="384.00" y="153.42" width="7.72" height="7.86" fill="#b0acda"/>
<rect x="391.12" y="153.42" width="7.72" height="7.86" fill="#fefeff"/>
<rect x="398.25" y="153.42" width="7.72" height="7.86" fill="#fefeff"/>
<rect x="405.38" y="153.42" width="7.72" height="7.86" fill="#fefeff"/>
<rect x="412.50" y="153.42" width="7.72" height="7.86" fill="#fefeff"/>
<rect x="419.62" y="153.42" width="7.72" height="7.86" fill="#5e5cb6"/>
<rect x="426.75" y="153.42" width="7.72" height="7.86" fill="#9692ce"/>
<rect x="433.88" y="153.42" width="7.12" height="7.86" fill="#2a3aa0"/>
<rect x="327.00" y="160.68" width="7.72" height="7.86" fill="#dcdaf0"/>
<rect x="334.12" y="160.68" width="7.72" height="7.86" fill="#fefeff"/>
<rect x="341.25" y="160.68" width="7.72" height="7.86" fill="#fefeff"/>
<rect x="348.38" y="160.68" width="7.72" height="7.86" fill="#dcdaf0"/>
<rect x="355.50" y="160.68" width="7.72" height="7.86" fill="#eeedf8"/>
<rect x="362.62" y="160.68" width="7.72" height="7.86" fill="#fefeff"/>
<rect x="369.75" y="160.68" width="7.72" height="7.86" fill="#fefeff"/>
<rect x="376.88" y="160.68" width="7.72" height="7.86" fill="#b0acda"/>
<rect x="384.00" y="160.68" width="7.72" height="7.86" fill="#eeedf8"/>
<rect x="391.12" y="160.68" width="7.72" height="7.86" fill="#eeedf8"/>
<rect x="398.25" y="160.68" width="7.72" height="7.86" fill="#eeedf8"/>
<rect x="405.38" y="160.68" width="7.72" height="7.86" fill="#eeedf8"/>
<rect x="412.50" y="160.68" width="7.72" height="7.86" fill="#eeedf8"/>
<rect x="419.62" y="160.68" width="7.72" height="7.86" fill="#dcdaf0"/>
<rect x="426.75" y="160.68" width="7.72" height="7.86" fill="#2a3aa0"/>
<rect x="433.88" y="160.68" width="7.12" height="7.86" fill="#b0acda"/>
<rect x="327.00" y="167.94" width="7.72" height="7.86" fill="#fefeff"/>
<rect x="334.12" y="167.94" width="7.72" height="7.86" fill="#fefeff"/>
<rect x="341.25" y="167.94" width="7.72" height="7.86" fill="#fefeff"/>
<rect x="348.38" y="167.94" width="7.72" height="7.86" fill="#fefeff"/>
<rect x="355.50" y="167.94" width="7.72" height="7.86" fill="#4046aa"/>
<rect x="362.62" y="167.94" width="7.72" height="7.86" fill="#dcdaf0"/>
<rect x="369.75" y="167.94" width="7.72" height="7.86" fill="#eeedf8"/>
<rect x="376.88" y="167.94" width="7.72" height="7.86" fill="#dcdaf0"/>
<rect x="384.00" y="167.94" width="7.72" height="7.86" fill="#9692ce"/>
<rect x="391.12" y="167.94" width="7.72" height="7.86" fill="#dcdaf0"/>
<rect x="398.25" y="167.94" width="7.72" height="7.86" fill="#eeedf8"/>
<rect x="405.38" y="167.94" width="7.72" height="7.86" fill="#b0acda"/>
<rect x="412.50" y="167.94" width="7.72" height="7.86" fill="#c8c5e6"/>
<rect x="419.62" y="167.94" width="7.72" height="7.86" fill="#9692ce"/>
<rect x="426.75" y="167.94" width="7.72" height="7.86" fill="#2a3aa0"/>
<rect x="433.88" y="167.94" width="7.12" height="7.86" fill="#b0acda"/>
<rect x="327.00" y="175.20" width="7.72" height="7.86" fill="#eeedf8"/>
<rect x="334.12" y="175.20" width="7.72" height="7.86" fill="#b0acda"/>
<rect x="341.25" y="175.20" width="7.72" height="7.86" fill="#fefeff"/>
<rect x="348.38" y="175.20" width="7.72" height="7.86" fill="#9692ce"/>
<rect x="355.50" y="175.20" width="7.72" height="7.86" fill="#4046aa"/>
<rect x="362.62" y="175.20" width="7.72" height="7.86" fill="#5e5cb6"/>
<rect x="369.75" y="175.20" width="7.72" height="7.86" fill="#fefeff"/>
<rect x="376.88" y="175.20" width="7.72" height="7.86" fill="#eeedf8"/>
<rect x="384.00" y="175.20" width="7.72" height="7.86" fill="#9692ce"/>
<rect x="391.12" y="175.20" width="7.72" height="7.86" fill="#fefeff"/>
<rect x="398.25" y="175.20" width="7.72" height="7.86" fill="#9692ce"/>
<rect x="405.38" y="175.20" width="7.72" height="7.86" fill="#c8c5e6"/>
<rect x="412.50" y="175.20" width="7.72" height="7.86" fill="#eeedf8"/>
<rect x="419.62" y="175.20" width="7.72" height="7.86" fill="#7a76c2"/>
<rect x="426.75" y="175.20" width="7.72" height="7.86" fill="#2a3aa0"/>
<rect x="433.88" y="175.20" width="7.12" height="7.86" fill="#2a3aa0"/>
<rect x="327.00" y="182.46" width="7.72" height="7.26" fill="#fefeff"/>
<rect x="334.12" y="182.46" width="7.72" height="7.26" fill="#fefeff"/>
<rect x="341.25" y="182.46" width="7.72" height="7.26" fill="#fefeff"/>
<rect x="348.38" y="182.46" width="7.72" height="7.26" fill="#fefeff"/>
<rect x="355.50" y="182.46" width="7.72" height="7.26" fill="#eeedf8"/>
<rect x="362.62" y="182.46" width="7.72" height="7.26" fill="#fefeff"/>
<rect x="369.75" y="182.46" width="7.72" height="7.26" fill="#fefeff"/>
<rect x="376.88" y="182.46" width="7.72" height="7.26" fill="#fefeff"/>
<rect x="384.00" y="182.46" width="7.72" height="7.26" fill="#fefeff"/>
<rect x="391.12" y="182.46" width="7.72" height="7.26" fill="#fefeff"/>
<rect x="398.25" y="182.46" width="7.72" height="7.26" fill="#fefeff"/>
<rect x="405.38" y="182.46" width="7.72" height="7.26" fill="#fefeff"/>
<rect x="412.50" y="182.46" width="7.72" height="7.26" fill="#2a3aa0"/>
<rect x="419.62" y="182.46" width="7.72" height="7.26" fill="#b0acda"/>
<rect x="426.75" y="182.46" width="7.72" height="7.26" fill="#2a3aa0"/>
<rect x="433.88" y="182.46" width="7.12" height="7.26" fill="#c8c5e6"/>
<path d="M334.12 30.00V189.72M341.25 30.00V189.72M348.38 30.00V189.72M355.50 30.00V189.72M362.62 30.00V189.72M369.75 30.00V189.72M376.88 30.00V189.72M384.00 30.00V189.72M391.12 30.00V189.72M398.25 30.00V189.72M405.38 30.00V189.72M412.50 30.00V189.72M419.62 30.00V189.72M426.75 30.00V189.72M433.88 30.00V189.72M327.00 37.26H441.00M327.00 44.52H441.00M327.00 51.78H441.00M327.00 59.04H441.00M327.00 66.30H441.00M327.00 73.56H441.00M327.00 80.82H441.00M327.00 88.08H441.00M327.00 95.34H441.00M327.00 102.60H441.00M327.00 109.86H441.00M327.00 117.12H441.00M327.00 124.38H441.00M327.00 131.64H441.00M327.00 138.90H441.00M327.00 146.16H441.00M327.00 153.42H441.00M327.00 160.68H441.00M327.00 167.94H441.00M327.00 175.20H441.00M327.00 182.46H441.00" stroke="#999" stroke-opacity="0.14" stroke-width="0.5" fill="none"/>
<text x="444.60" y="34.60" font-size="6.70" fill="#2e2e2e" letter-spacing="0.18">G-CSF</text>
<text x="444.60" y="41.93" font-size="6.70" fill="#2e2e2e" letter-spacing="0.18">IL-5</text>
<text x="444.60" y="49.26" font-size="6.70" fill="#2e2e2e" letter-spacing="0.18">IL-17</text>
<text x="444.60" y="56.59" font-size="6.70" fill="#2e2e2e" letter-spacing="0.18">IL-15</text>
<text x="444.60" y="63.92" font-size="6.70" fill="#2e2e2e" letter-spacing="0.18">CXCL1/KC</text>
<text x="444.60" y="71.25" font-size="6.70" fill="#2e2e2e" letter-spacing="0.18">CCL11/Eotaxin</text>
<text x="444.60" y="78.58" font-size="6.70" fill="#2e2e2e" letter-spacing="0.18">CXCL5/LIX</text>
<text x="444.60" y="85.91" font-size="6.70" fill="#2e2e2e" letter-spacing="0.18">CCL4/MIP1α</text>
<text x="444.60" y="93.24" font-size="6.70" fill="#2e2e2e" letter-spacing="0.18">GM-CSF</text>
<text x="444.60" y="100.57" font-size="6.70" fill="#2e2e2e" letter-spacing="0.18">CCL4/MIP1β</text>
<text x="444.60" y="107.90" font-size="6.70" fill="#2e2e2e" letter-spacing="0.18">IL-13</text>
<text x="444.60" y="115.23" font-size="6.70" fill="#2e2e2e" letter-spacing="0.18">CCL2/MCP1</text>
<text x="444.60" y="122.56" font-size="6.70" fill="#2e2e2e" letter-spacing="0.18">CCL5/RANTES</text>
<text x="444.60" y="129.89" font-size="6.70" fill="#2e2e2e" letter-spacing="0.18">IL-1α</text>
<text x="444.60" y="137.22" font-size="6.70" fill="#2e2e2e" letter-spacing="0.18">IL-6</text>
<text x="444.60" y="144.55" font-size="6.70" fill="#2e2e2e" letter-spacing="0.18">TNFα</text>
<text x="444.60" y="151.88" font-size="6.70" fill="#2e2e2e" letter-spacing="0.18">IL-10</text>
<text x="444.60" y="159.21" font-size="6.70" fill="#2e2e2e" letter-spacing="0.18">CXCL2/MIP2</text>
<text x="444.60" y="166.54" font-size="6.70" fill="#2e2e2e" letter-spacing="0.18">IL-12p40</text>
<text x="444.60" y="173.87" font-size="6.70" fill="#2e2e2e" letter-spacing="0.18">CXCL10/IP10</text>
<text x="444.60" y="181.20" font-size="6.70" fill="#2e2e2e" letter-spacing="0.18">M-CSF</text>
<text x="444.60" y="188.53" font-size="6.70" fill="#2e2e2e" letter-spacing="0.18">CXCL9/MIG</text>
<path d="M324.00 33.63H309.70M324.00 40.89H309.70M309.70 33.63V40.89M309.70 37.26H294.20M324.00 48.15H294.20M294.20 37.26V48.15M324.00 55.41H302.10M324.00 62.67H302.10M302.10 55.41V62.67M294.20 40.89H290.20M302.10 59.04H290.20M290.20 40.89V59.04M324.00 77.19H297.80M324.00 84.45H297.80M297.80 77.19V84.45M324.00 69.93H290.20M297.80 80.82H290.20M290.20 69.93V80.82M324.00 91.71H317.70M324.00 98.97H317.70M317.70 91.71V98.97M324.00 106.23H314.10M324.00 113.49H314.10M314.10 106.23V113.49M317.70 95.34H309.30M314.10 109.86H309.30M309.30 95.34V109.86M309.30 102.60H304.10M324.00 120.75H304.10M304.10 102.60V120.75M324.00 135.27H317.50M324.00 142.53H317.50M317.50 135.27V142.53M324.00 128.01H314.00M317.50 138.90H314.00M314.00 128.01V138.90M324.00 149.79H311.00M324.00 157.05H311.00M311.00 149.79V157.05M314.00 135.27H309.50M311.00 153.42H309.50M309.50 135.27V153.42M324.00 164.31H312.00M324.00 171.57H312.00M312.00 164.31V171.57M324.00 178.83H310.00M324.00 186.09H310.00M310.00 178.83V186.09M312.00 167.94H306.00M310.00 182.46H306.00M306.00 167.94V182.46M309.50 142.53H305.00M306.00 175.20H305.00M305.00 142.53V175.20M304.10 106.23H295.80M305.00 157.05H295.80M295.80 106.23V157.05M290.20 77.19H287.20M295.80 138.90H287.20M287.20 77.19V138.90M290.20 48.15H272.30M287.20 128.01H272.30M272.30 48.15V128.01" stroke="#888888" stroke-width="0.80" fill="none" stroke-linecap="square"/>
<defs><linearGradient id="g641" x1="0" x2="1" y1="0" y2="0"><stop offset="0" stop-color="#ffffff"/><stop offset="0.3" stop-color="#b4b4d6"/><stop offset="0.5" stop-color="#4a4c9a"/><stop offset="0.62" stop-color="#2e3490"/><stop offset="1" stop-color="#2c3592"/></linearGradient></defs>
<rect x="299.40" y="195.40" width="43.30" height="2.90" fill="url(#g641)" stroke="#333" stroke-width="0.4"/>
<path d="M295.40 200.70H302.40M339.70 200.70H347.70" stroke="#1a1a1a" stroke-width="1.1"/>
<text x="19.00" y="242.40" font-size="12.60" font-weight="bold" fill="#111" textLength="10.0" lengthAdjust="spacingAndGlyphs">B</text>
<text x="120.70" y="239.20" font-size="10.00" text-anchor="middle" fill="#222" textLength="23.6" lengthAdjust="spacingAndGlyphs">Early</text>
<text x="186.30" y="239.20" font-size="10.00" text-anchor="middle" fill="#222" textLength="21.5" lengthAdjust="spacingAndGlyphs">Late</text>
<path d="M89.10 242.50H150.50" stroke="#111" stroke-width="1.30"/>
<path d="M156.00 242.50H214.00" stroke="#111" stroke-width="1.30"/>
<text x="102.60" y="253.60" font-size="8.60" text-anchor="middle" fill="#222" textLength="12.5" lengthAdjust="spacingAndGlyphs">WT</text>
<text x="134.20" y="253.60" font-size="8.60" text-anchor="middle" fill="#222" textLength="26.3" lengthAdjust="spacingAndGlyphs">V617F</text>
<text x="167.20" y="253.60" font-size="8.60" text-anchor="middle" fill="#222" textLength="12.8" lengthAdjust="spacingAndGlyphs">WT</text>
<text x="198.70" y="253.60" font-size="8.60" text-anchor="middle" fill="#222" textLength="25.0" lengthAdjust="spacingAndGlyphs">V617F</text>
<path d="M89.40 256.60H114.70" stroke="#111" stroke-width="1.30"/>
<path d="M121.00 256.60H150.60" stroke="#111" stroke-width="1.30"/>
<path d="M156.70 256.60H178.90" stroke="#111" stroke-width="1.30"/>
<path d="M185.30 256.60H210.30" stroke="#111" stroke-width="1.30"/>
<rect x="90.00" y="259.00" width="10.85" height="7.60" fill="#5e5cb6"/>
<rect x="100.25" y="259.00" width="10.85" height="7.60" fill="#eeedf8"/>
<rect x="110.50" y="259.00" width="10.85" height="7.60" fill="#b0acda"/>
<rect x="120.75" y="259.00" width="10.85" height="7.60" fill="#4046aa"/>
<rect x="131.00" y="259.00" width="10.85" height="7.60" fill="#7a76c2"/>
<rect x="141.25" y="259.00" width="10.85" height="7.60" fill="#4046aa"/>
<rect x="151.50" y="259.00" width="10.85" height="7.60" fill="#eeedf8"/>
<rect x="161.75" y="259.00" width="10.85" height="7.60" fill="#c8c5e6"/>
<rect x="172.00" y="259.00" width="10.85" height="7.60" fill="#fefeff"/>
<rect x="182.25" y="259.00" width="10.85" height="7.60" fill="#dcdaf0"/>
<rect x="192.50" y="259.00" width="10.85" height="7.60" fill="#2a3aa0"/>
<rect x="202.75" y="259.00" width="10.25" height="7.60" fill="#dcdaf0"/>
<rect x="90.00" y="266.00" width="10.85" height="7.60" fill="#fefeff"/>
<rect x="100.25" y="266.00" width="10.85" height="7.60" fill="#eeedf8"/>
<rect x="110.50" y="266.00" width="10.85" height="7.60" fill="#fefeff"/>
<rect x="120.75" y="266.00" width="10.85" height="7.60" fill="#dcdaf0"/>
<rect x="131.00" y="266.00" width="10.85" height="7.60" fill="#fefeff"/>
<rect x="141.25" y="266.00" width="10.85" height="7.60" fill="#4046aa"/>
<rect x="151.50" y="266.00" width="10.85" height="7.60" fill="#fefeff"/>
<rect x="161.75" y="266.00" width="10.85" height="7.60" fill="#b0acda"/>
<rect x="172.00" y="266.00" width="10.85" height="7.60" fill="#dcdaf0"/>
<rect x="182.25" y="266.00" width="10.85" height="7.60" fill="#7a76c2"/>
<rect x="192.50" y="266.00" width="10.85" height="7.60" fill="#2a3aa0"/>
<rect x="202.75" y="266.00" width="10.25" height="7.60" fill="#eeedf8"/>
<rect x="90.00" y="273.00" width="10.85" height="7.60" fill="#fefeff"/>
<rect x="100.25" y="273.00" width="10.85" height="7.60" fill="#fefeff"/>
<rect x="110.50" y="273.00" width="10.85" height="7.60" fill="#fefeff"/>
<rect x="120.75" y="273.00" width="10.85" height="7.60" fill="#fefeff"/>
<rect x="131.00" y="273.00" width="10.85" height="7.60" fill="#fefeff"/>
<rect x="141.25" y="273.00" width="10.85" height="7.60" fill="#dcdaf0"/>
<rect x="151.50" y="273.00" width="10.85" height="7.60" fill="#dcdaf0"/>
<rect x="161.75" y="273.00" width="10.85" height="7.60" fill="#dcdaf0"/>
<rect x="172.00" y="273.00" width="10.85" height="7.60" fill="#fefeff"/>
<rect x="182.25" y="273.00" width="10.85" height="7.60" fill="#fefeff"/>
<rect x="192.50" y="273.00" width="10.85" height="7.60" fill="#2a3aa0"/>
<rect x="202.75" y="273.00" width="10.25" height="7.60" fill="#fefeff"/>
<rect x="90.00" y="280.00" width="10.85" height="7.60" fill="#eeedf8"/>
<rect x="100.25" y="280.00" width="10.85" height="7.60" fill="#eeedf8"/>
<rect x="110.50" y="280.00" width="10.85" height="7.60" fill="#fefeff"/>
<rect x="120.75" y="280.00" width="10.85" height="7.60" fill="#dcdaf0"/>
<rect x="131.00" y="280.00" width="10.85" height="7.60" fill="#eeedf8"/>
<rect x="141.25" y="280.00" width="10.85" height="7.60" fill="#eeedf8"/>
<rect x="151.50" y="280.00" width="10.85" height="7.60" fill="#fefeff"/>
<rect x="161.75" y="280.00" width="10.85" height="7.60" fill="#fefeff"/>
<rect x="172.00" y="280.00" width="10.85" height="7.60" fill="#eeedf8"/>
<rect x="182.25" y="280.00" width="10.85" height="7.60" fill="#eeedf8"/>
<rect x="192.50" y="280.00" width="10.85" height="7.60" fill="#2a3aa0"/>
<rect x="202.75" y="280.00" width="10.25" height="7.60" fill="#dcdaf0"/>
<rect x="90.00" y="287.00" width="10.85" height="7.60" fill="#dcdaf0"/>
<rect x="100.25" y="287.00" width="10.85" height="7.60" fill="#9692ce"/>
<rect x="110.50" y="287.00" width="10.85" height="7.60" fill="#fefeff"/>
<rect x="120.75" y="287.00" width="10.85" height="7.60" fill="#9692ce"/>
<rect x="131.00" y="287.00" width="10.85" height="7.60" fill="#4046aa"/>
<rect x="141.25" y="287.00" width="10.85" height="7.60" fill="#4046aa"/>
<rect x="151.50" y="287.00" width="10.85" height="7.60" fill="#dcdaf0"/>
<rect x="161.75" y="287.00" width="10.85" height="7.60" fill="#dcdaf0"/>
<rect x="172.00" y="287.00" width="10.85" height="7.60" fill="#9692ce"/>
<rect x="182.25" y="287.00" width="10.85" height="7.60" fill="#2a3aa0"/>
<rect x="192.50" y="287.00" width="10.85" height="7.60" fill="#2a3aa0"/>
<rect x="202.75" y="287.00" width="10.25" height="7.60" fill="#5e5cb6"/>
<rect x="90.00" y="294.00" width="10.85" height="7.60" fill="#fefeff"/>
<rect x="100.25" y="294.00" width="10.85" height="7.60" fill="#c8c5e6"/>
<rect x="110.50" y="294.00" width="10.85" height="7.60" fill="#dcdaf0"/>
<rect x="120.75" y="294.00" width="10.85" height="7.60" fill="#4046aa"/>
<rect x="131.00" y="294.00" width="10.85" height="7.60" fill="#9692ce"/>
<rect x="141.25" y="294.00" width="10.85" height="7.60" fill="#7a76c2"/>
<rect x="151.50" y="294.00" width="10.85" height="7.60" fill="#eeedf8"/>
<rect x="161.75" y="294.00" width="10.85" height="7.60" fill="#fefeff"/>
<rect x="172.00" y="294.00" width="10.85" height="7.60" fill="#b0acda"/>
<rect x="182.25" y="294.00" width="10.85" height="7.60" fill="#2a3aa0"/>
<rect x="192.50" y="294.00" width="10.85" height="7.60" fill="#2a3aa0"/>
<rect x="202.75" y="294.00" width="10.25" height="7.60" fill="#5e5cb6"/>
<rect x="90.00" y="301.00" width="10.85" height="7.60" fill="#fefeff"/>
<rect x="100.25" y="301.00" width="10.85" height="7.60" fill="#fefeff"/>
<rect x="110.50" y="301.00" width="10.85" height="7.60" fill="#fefeff"/>
<rect x="120.75" y="301.00" width="10.85" height="7.60" fill="#c8c5e6"/>
<rect x="131.00" y="301.00" width="10.85" height="7.60" fill="#eeedf8"/>
<rect x="141.25" y="301.00" width="10.85" height="7.60" fill="#c8c5e6"/>
<rect x="151.50" y="301.00" width="10.85" height="7.60" fill="#fefeff"/>
<rect x="161.75" y="301.00" width="10.85" height="7.60" fill="#c8c5e6"/>
<rect x="172.00" y="301.00" width="10.85" height="7.60" fill="#fefeff"/>
<rect x="182.25" y="301.00" width="10.85" height="7.60" fill="#2a3aa0"/>
<rect x="192.50" y="301.00" width="10.85" height="7.60" fill="#2a3aa0"/>
<rect x="202.75" y="301.00" width="10.25" height="7.60" fill="#dcdaf0"/>
<rect x="90.00" y="308.00" width="10.85" height="7.60" fill="#fefeff"/>
<rect x="100.25" y="308.00" width="10.85" height="7.60" fill="#fefeff"/>
<rect x="110.50" y="308.00" width="10.85" height="7.60" fill="#fefeff"/>
<rect x="120.75" y="308.00" width="10.85" height="7.60" fill="#c8c5e6"/>
<rect x="131.00" y="308.00" width="10.85" height="7.60" fill="#fefeff"/>
<rect x="141.25" y="308.00" width="10.85" height="7.60" fill="#eeedf8"/>
<rect x="151.50" y="308.00" width="10.85" height="7.60" fill="#fefeff"/>
<rect x="161.75" y="308.00" width="10.85" height="7.60" fill="#fefeff"/>
<rect x="172.00" y="308.00" width="10.85" height="7.60" fill="#fefeff"/>
<rect x="182.25" y="308.00" width="10.85" height="7.60" fill="#2a3aa0"/>
<rect x="192.50" y="308.00" width="10.85" height="7.60" fill="#2a3aa0"/>
<rect x="202.75" y="308.00" width="10.25" height="7.60" fill="#fefeff"/>
<rect x="90.00" y="315.00" width="10.85" height="7.60" fill="#fefeff"/>
<rect x="100.25" y="315.00" width="10.85" height="7.60" fill="#fefeff"/>
<rect x="110.50" y="315.00" width="10.85" height="7.60" fill="#fefeff"/>
<rect x="120.75" y="315.00" width="10.85" height="7.60" fill="#c8c5e6"/>
<rect x="131.00" y="315.00" width="10.85" height="7.60" fill="#c8c5e6"/>
<rect x="141.25" y="315.00" width="10.85" height="7.60" fill="#5e5cb6"/>
<rect x="151.50" y="315.00" width="10.85" height="7.60" fill="#fefeff"/>
<rect x="161.75" y="315.00" width="10.85" height="7.60" fill="#fefeff"/>
<rect x="172.00" y="315.00" width="10.85" height="7.60" fill="#fefeff"/>
<rect x="182.25" y="315.00" width="10.85" height="7.60" fill="#2a3aa0"/>
<rect x="192.50" y="315.00" width="10.85" height="7.60" fill="#2a3aa0"/>
<rect x="202.75" y="315.00" width="10.25" height="7.60" fill="#fefeff"/>
<rect x="90.00" y="322.00" width="10.85" height="7.60" fill="#fefeff"/>
<rect x="100.25" y="322.00" width="10.85" height="7.60" fill="#fefeff"/>
<rect x="110.50" y="322.00" width="10.85" height="7.60" fill="#fefeff"/>
<rect x="120.75" y="322.00" width="10.85" height="7.60" fill="#eeedf8"/>
<rect x="131.00" y="322.00" width="10.85" height="7.60" fill="#eeedf8"/>
<rect x="141.25" y="322.00" width="10.85" height="7.60" fill="#5e5cb6"/>
<rect x="151.50" y="322.00" width="10.85" height="7.60" fill="#fefeff"/>
<rect x="161.75" y="322.00" width="10.85" height="7.60" fill="#c8c5e6"/>
<rect x="172.00" y="322.00" width="10.85" height="7.60" fill="#fefeff"/>
<rect x="182.25" y="322.00" width="10.85" height="7.60" fill="#2a3aa0"/>
<rect x="192.50" y="322.00" width="10.85" height="7.60" fill="#2a3aa0"/>
<rect x="202.75" y="322.00" width="10.25" height="7.60" fill="#eeedf8"/>
<rect x="90.00" y="329.00" width="10.85" height="7.60" fill="#fefeff"/>
<rect x="100.25" y="329.00" width="10.85" height="7.60" fill="#2a3aa0"/>
<rect x="110.50" y="329.00" width="10.85" height="7.60" fill="#fefeff"/>
<rect x="120.75" y="329.00" width="10.85" height="7.60" fill="#2a3aa0"/>
<rect x="131.00" y="329.00" width="10.85" height="7.60" fill="#4046aa"/>
<rect x="141.25" y="329.00" width="10.85" height="7.60" fill="#2a3aa0"/>
<rect x="151.50" y="329.00" width="10.85" height="7.60" fill="#4046aa"/>
<rect x="161.75" y="329.00" width="10.85" height="7.60" fill="#7a76c2"/>
<rect x="172.00" y="329.00" width="10.85" height="7.60" fill="#5e5cb6"/>
<rect x="182.25" y="329.00" width="10.85" height="7.60" fill="#2a3aa0"/>
<rect x="192.50" y="329.00" width="10.85" height="7.60" fill="#2a3aa0"/>
<rect x="202.75" y="329.00" width="10.25" height="7.60" fill="#4046aa"/>
<rect x="90.00" y="336.00" width="10.85" height="7.60" fill="#dcdaf0"/>
<rect x="100.25" y="336.00" width="10.85" height="7.60" fill="#dcdaf0"/>
<rect x="110.50" y="336.00" width="10.85" height="7.60" fill="#fefeff"/>
<rect x="120.75" y="336.00" width="10.85" height="7.60" fill="#7a76c2"/>
<rect x="131.00" y="336.00" width="10.85" height="7.60" fill="#7a76c2"/>
<rect x="141.25" y="336.00" width="10.85" height="7.60" fill="#2a3aa0"/>
<rect x="151.50" y="336.00" width="10.85" height="7.60" fill="#eeedf8"/>
<rect x="161.75" y="336.00" width="10.85" height="7.60" fill="#9692ce"/>
<rect x="172.00" y="336.00" width="10.85" height="7.60" fill="#fefeff"/>
<rect x="182.25" y="336.00" width="10.85" height="7.60" fill="#2a3aa0"/>
<rect x="192.50" y="336.00" width="10.85" height="7.60" fill="#5e5cb6"/>
<rect x="202.75" y="336.00" width="10.25" height="7.60" fill="#5e5cb6"/>
<rect x="90.00" y="343.00" width="10.85" height="7.60" fill="#fefeff"/>
<rect x="100.25" y="343.00" width="10.85" height="7.60" fill="#fefeff"/>
<rect x="110.50" y="343.00" width="10.85" height="7.60" fill="#fefeff"/>
<rect x="120.75" y="343.00" width="10.85" height="7.60" fill="#fefeff"/>
<rect x="131.00" y="343.00" width="10.85" height="7.60" fill="#eeedf8"/>
<rect x="141.25" y="343.00" width="10.85" height="7.60" fill="#eeedf8"/>
<rect x="151.50" y="343.00" width="10.85" height="7.60" fill="#fefeff"/>
<rect x="161.75" y="343.00" width="10.85" height="7.60" fill="#dcdaf0"/>
<rect x="172.00" y="343.00" width="10.85" height="7.60" fill="#fefeff"/>
<rect x="182.25" y="343.00" width="10.85" height="7.60" fill="#2a3aa0"/>
<rect x="192.50" y="343.00" width="10.85" height="7.60" fill="#9692ce"/>
<rect x="202.75" y="343.00" width="10.25" height="7.60" fill="#eeedf8"/>
<rect x="90.00" y="350.00" width="10.85" height="7.60" fill="#fefeff"/>
<rect x="100.25" y="350.00" width="10.85" height="7.60" fill="#fefeff"/>
<rect x="110.50" y="350.00" width="10.85" height="7.60" fill="#fefeff"/>
<rect x="120.75" y="350.00" width="10.85" height="7.60" fill="#fefeff"/>
<rect x="131.00" y="350.00" width="10.85" height="7.60" fill="#fefeff"/>
<rect x="141.25" y="350.00" width="10.85" height="7.60" fill="#fefeff"/>
<rect x="151.50" y="350.00" width="10.85" height="7.60" fill="#fefeff"/>
<rect x="161.75" y="350.00" width="10.85" height="7.60" fill="#fefeff"/>
<rect x="172.00" y="350.00" width="10.85" height="7.60" fill="#fefeff"/>
<rect x="182.25" y="350.00" width="10.85" height="7.60" fill="#2a3aa0"/>
<rect x="192.50" y="350.00" width="10.85" height="7.60" fill="#7a76c2"/>
<rect x="202.75" y="350.00" width="10.25" height="7.60" fill="#eeedf8"/>
<rect x="90.00" y="357.00" width="10.85" height="7.60" fill="#fefeff"/>
<rect x="100.25" y="357.00" width="10.85" height="7.60" fill="#dcdaf0"/>
<rect x="110.50" y="357.00" width="10.85" height="7.60" fill="#fefeff"/>
<rect x="120.75" y="357.00" width="10.85" height="7.60" fill="#dcdaf0"/>
<rect x="131.00" y="357.00" width="10.85" height="7.60" fill="#dcdaf0"/>
<rect x="141.25" y="357.00" width="10.85" height="7.60" fill="#c8c5e6"/>
<rect x="151.50" y="357.00" width="10.85" height="7.60" fill="#eeedf8"/>
<rect x="161.75" y="357.00" width="10.85" height="7.60" fill="#eeedf8"/>
<rect x="172.00" y="357.00" width="10.85" height="7.60" fill="#fefeff"/>
<rect x="182.25" y="357.00" width="10.85" height="7.60" fill="#2a3aa0"/>
<rect x="192.50" y="357.00" width="10.85" height="7.60" fill="#b0acda"/>
<rect x="202.75" y="357.00" width="10.25" height="7.60" fill="#9692ce"/>
<rect x="90.00" y="364.00" width="10.85" height="7.60" fill="#fefeff"/>
<rect x="100.25" y="364.00" width="10.85" height="7.60" fill="#fefeff"/>
<rect x="110.50" y="364.00" width="10.85" height="7.60" fill="#fefeff"/>
<rect x="120.75" y="364.00" width="10.85" height="7.60" fill="#fefeff"/>
<rect x="131.00" y="364.00" width="10.85" height="7.60" fill="#fefeff"/>
<rect x="141.25" y="364.00" width="10.85" height="7.60" fill="#fefeff"/>
<rect x="151.50" y="364.00" width="10.85" height="7.60" fill="#fefeff"/>
<rect x="161.75" y="364.00" width="10.85" height="7.60" fill="#fefeff"/>
<rect x="172.00" y="364.00" width="10.85" height="7.60" fill="#fefeff"/>
<rect x="182.25" y="364.00" width="10.85" height="7.60" fill="#2a3aa0"/>
<rect x="192.50" y="364.00" width="10.85" height="7.60" fill="#fefeff"/>
<rect x="202.75" y="364.00" width="10.25" height="7.60" fill="#fefeff"/>
<rect x="90.00" y="371.00" width="10.85" height="7.60" fill="#eeedf8"/>
<rect x="100.25" y="371.00" width="10.85" height="7.60" fill="#eeedf8"/>
<rect x="110.50" y="371.00" width="10.85" height="7.60" fill="#fefeff"/>
<rect x="120.75" y="371.00" width="10.85" height="7.60" fill="#5e5cb6"/>
<rect x="131.00" y="371.00" width="10.85" height="7.60" fill="#eeedf8"/>
<rect x="141.25" y="371.00" width="10.85" height="7.60" fill="#eeedf8"/>
<rect x="151.50" y="371.00" width="10.85" height="7.60" fill="#fefeff"/>
<rect x="161.75" y="371.00" width="10.85" height="7.60" fill="#fefeff"/>
<rect x="172.00" y="371.00" width="10.85" height="7.60" fill="#fefeff"/>
<rect x="182.25" y="371.00" width="10.85" height="7.60" fill="#2a3aa0"/>
<rect x="192.50" y="371.00" width="10.85" height="7.60" fill="#dcdaf0"/>
<rect x="202.75" y="371.00" width="10.25" height="7.60" fill="#2a3aa0"/>
<rect x="90.00" y="378.00" width="10.85" height="7.60" fill="#eeedf8"/>
<rect x="100.25" y="378.00" width="10.85" height="7.60" fill="#b0acda"/>
<rect x="110.50" y="378.00" width="10.85" height="7.60" fill="#fefeff"/>
<rect x="120.75" y="378.00" width="10.85" height="7.60" fill="#9692ce"/>
<rect x="131.00" y="378.00" width="10.85" height="7.60" fill="#fefeff"/>
<rect x="141.25" y="378.00" width="10.85" height="7.60" fill="#7a76c2"/>
<rect x="151.50" y="378.00" width="10.85" height="7.60" fill="#fefeff"/>
<rect x="161.75" y="378.00" width="10.85" height="7.60" fill="#fefeff"/>
<rect x="172.00" y="378.00" width="10.85" height="7.60" fill="#fefeff"/>
<rect x="182.25" y="378.00" width="10.85" height="7.60" fill="#2a3aa0"/>
<rect x="192.50" y="378.00" width="10.85" height="7.60" fill="#9692ce"/>
<rect x="202.75" y="378.00" width="10.25" height="7.60" fill="#5e5cb6"/>
<rect x="90.00" y="385.00" width="10.85" height="7.60" fill="#eeedf8"/>
<rect x="100.25" y="385.00" width="10.85" height="7.60" fill="#fefeff"/>
<rect x="110.50" y="385.00" width="10.85" height="7.60" fill="#fefeff"/>
<rect x="120.75" y="385.00" width="10.85" height="7.60" fill="#b0acda"/>
<rect x="131.00" y="385.00" width="10.85" height="7.60" fill="#eeedf8"/>
<rect x="141.25" y="385.00" width="10.85" height="7.60" fill="#c8c5e6"/>
<rect x="151.50" y="385.00" width="10.85" height="7.60" fill="#eeedf8"/>
<rect x="161.75" y="385.00" width="10.85" height="7.60" fill="#eeedf8"/>
<rect x="172.00" y="385.00" width="10.85" height="7.60" fill="#c8c5e6"/>
<rect x="182.25" y="385.00" width="10.85" height="7.60" fill="#2a3aa0"/>
<rect x="192.50" y="385.00" width="10.85" height="7.60" fill="#2a3aa0"/>
<rect x="202.75" y="385.00" width="10.25" height="7.60" fill="#2a3aa0"/>
<rect x="90.00" y="392.00" width="10.85" height="7.60" fill="#9692ce"/>
<rect x="100.25" y="392.00" width="10.85" height="7.60" fill="#fefeff"/>
<rect x="110.50" y="392.00" width="10.85" height="7.60" fill="#fefeff"/>
<rect x="120.75" y="392.00" width="10.85" height="7.60" fill="#fefeff"/>
<rect x="131.00" y="392.00" width="10.85" height="7.60" fill="#7a76c2"/>
<rect x="141.25" y="392.00" width="10.85" height="7.60" fill="#7a76c2"/>
<rect x="151.50" y="392.00" width="10.85" height="7.60" fill="#7a76c2"/>
<rect x="161.75" y="392.00" width="10.85" height="7.60" fill="#2a3aa0"/>
<rect x="172.00" y="392.00" width="10.85" height="7.60" fill="#fefeff"/>
<rect x="182.25" y="392.00" width="10.85" height="7.60" fill="#2a3aa0"/>
<rect x="192.50" y="392.00" width="10.85" height="7.60" fill="#fefeff"/>
<rect x="202.75" y="392.00" width="10.25" height="7.60" fill="#7a76c2"/>
<rect x="90.00" y="399.00" width="10.85" height="7.60" fill="#fefeff"/>
<rect x="100.25" y="399.00" width="10.85" height="7.60" fill="#fefeff"/>
<rect x="110.50" y="399.00" width="10.85" height="7.60" fill="#fefeff"/>
<rect x="120.75" y="399.00" width="10.85" height="7.60" fill="#fefeff"/>
<rect x="131.00" y="399.00" width="10.85" height="7.60" fill="#fefeff"/>
<rect x="141.25" y="399.00" width="10.85" height="7.60" fill="#eeedf8"/>
<rect x="151.50" y="399.00" width="10.85" height="7.60" fill="#fefeff"/>
<rect x="161.75" y="399.00" width="10.85" height="7.60" fill="#fefeff"/>
<rect x="172.00" y="399.00" width="10.85" height="7.60" fill="#fefeff"/>
<rect x="182.25" y="399.00" width="10.85" height="7.60" fill="#c8c5e6"/>
<rect x="192.50" y="399.00" width="10.85" height="7.60" fill="#fefeff"/>
<rect x="202.75" y="399.00" width="10.25" height="7.60" fill="#2a3aa0"/>
<rect x="90.00" y="406.00" width="10.85" height="7.60" fill="#eeedf8"/>
<rect x="100.25" y="406.00" width="10.85" height="7.60" fill="#dcdaf0"/>
<rect x="110.50" y="406.00" width="10.85" height="7.60" fill="#fefeff"/>
<rect x="120.75" y="406.00" width="10.85" height="7.60" fill="#9692ce"/>
<rect x="131.00" y="406.00" width="10.85" height="7.60" fill="#dcdaf0"/>
<rect x="141.25" y="406.00" width="10.85" height="7.60" fill="#dcdaf0"/>
<rect x="151.50" y="406.00" width="10.85" height="7.60" fill="#fefeff"/>
<rect x="161.75" y="406.00" width="10.85" height="7.60" fill="#eeedf8"/>
<rect x="172.00" y="406.00" width="10.85" height="7.60" fill="#dcdaf0"/>
<rect x="182.25" y="406.00" width="10.85" height="7.60" fill="#2a3aa0"/>
<rect x="192.50" y="406.00" width="10.85" height="7.60" fill="#9692ce"/>
<rect x="202.75" y="406.00" width="10.25" height="7.60" fill="#2a3aa0"/>
<rect x="90.00" y="413.00" width="10.85" height="7.60" fill="#dcdaf0"/>
<rect x="100.25" y="413.00" width="10.85" height="7.60" fill="#eeedf8"/>
<rect x="110.50" y="413.00" width="10.85" height="7.60" fill="#eeedf8"/>
<rect x="120.75" y="413.00" width="10.85" height="7.60" fill="#7a76c2"/>
<rect x="131.00" y="413.00" width="10.85" height="7.60" fill="#dcdaf0"/>
<rect x="141.25" y="413.00" width="10.85" height="7.60" fill="#7a76c2"/>
<rect x="151.50" y="413.00" width="10.85" height="7.60" fill="#fefeff"/>
<rect x="161.75" y="413.00" width="10.85" height="7.60" fill="#fefeff"/>
<rect x="172.00" y="413.00" width="10.85" height="7.60" fill="#dcdaf0"/>
<rect x="182.25" y="413.00" width="10.85" height="7.60" fill="#2a3aa0"/>
<rect x="192.50" y="413.00" width="10.85" height="7.60" fill="#7a76c2"/>
<rect x="202.75" y="413.00" width="10.25" height="7.60" fill="#2a3aa0"/>
<rect x="90.00" y="420.00" width="10.85" height="7.60" fill="#fefeff"/>
<rect x="100.25" y="420.00" width="10.85" height="7.60" fill="#fefeff"/>
<rect x="110.50" y="420.00" width="10.85" height="7.60" fill="#fefeff"/>
<rect x="120.75" y="420.00" width="10.85" height="7.60" fill="#eeedf8"/>
<rect x="131.00" y="420.00" width="10.85" height="7.60" fill="#eeedf8"/>
<rect x="141.25" y="420.00" width="10.85" height="7.60" fill="#9692ce"/>
<rect x="151.50" y="420.00" width="10.85" height="7.60" fill="#fefeff"/>
<rect x="161.75" y="420.00" width="10.85" height="7.60" fill="#fefeff"/>
<rect x="172.00" y="420.00" width="10.85" height="7.60" fill="#fefeff"/>
<rect x="182.25" y="420.00" width="10.85" height="7.60" fill="#4046aa"/>
<rect x="192.50" y="420.00" width="10.85" height="7.60" fill="#dcdaf0"/>
<rect x="202.75" y="420.00" width="10.25" height="7.60" fill="#2a3aa0"/>
<rect x="90.00" y="427.00" width="10.85" height="7.60" fill="#dcdaf0"/>
<rect x="100.25" y="427.00" width="10.85" height="7.60" fill="#4046aa"/>
<rect x="110.50" y="427.00" width="10.85" height="7.60" fill="#dcdaf0"/>
<rect x="120.75" y="427.00" width="10.85" height="7.60" fill="#2a3aa0"/>
<rect x="131.00" y="427.00" width="10.85" height="7.60" fill="#dcdaf0"/>
<rect x="141.25" y="427.00" width="10.85" height="7.60" fill="#4046aa"/>
<rect x="151.50" y="427.00" width="10.85" height="7.60" fill="#dcdaf0"/>
<rect x="161.75" y="427.00" width="10.85" height="7.60" fill="#fefeff"/>
<rect x="172.00" y="427.00" width="10.85" height="7.60" fill="#eeedf8"/>
<rect x="182.25" y="427.00" width="10.85" height="7.60" fill="#2a3aa0"/>
<rect x="192.50" y="427.00" width="10.85" height="7.60" fill="#eeedf8"/>
<rect x="202.75" y="427.00" width="10.25" height="7.60" fill="#2a3aa0"/>
<rect x="90.00" y="434.00" width="10.85" height="7.60" fill="#b0acda"/>
<rect x="100.25" y="434.00" width="10.85" height="7.60" fill="#4046aa"/>
<rect x="110.50" y="434.00" width="10.85" height="7.60" fill="#b0acda"/>
<rect x="120.75" y="434.00" width="10.85" height="7.60" fill="#5e5cb6"/>
<rect x="131.00" y="434.00" width="10.85" height="7.60" fill="#7a76c2"/>
<rect x="141.25" y="434.00" width="10.85" height="7.60" fill="#5e5cb6"/>
<rect x="151.50" y="434.00" width="10.85" height="7.60" fill="#dcdaf0"/>
<rect x="161.75" y="434.00" width="10.85" height="7.60" fill="#fefeff"/>
<rect x="172.00" y="434.00" width="10.85" height="7.60" fill="#c8c5e6"/>
<rect x="182.25" y="434.00" width="10.85" height="7.60" fill="#5e5cb6"/>
<rect x="192.50" y="434.00" width="10.85" height="7.60" fill="#9692ce"/>
<rect x="202.75" y="434.00" width="10.25" height="7.60" fill="#2a3aa0"/>
<rect x="90.00" y="441.00" width="10.85" height="7.60" fill="#dcdaf0"/>
<rect x="100.25" y="441.00" width="10.85" height="7.60" fill="#4046aa"/>
<rect x="110.50" y="441.00" width="10.85" height="7.60" fill="#eeedf8"/>
<rect x="120.75" y="441.00" width="10.85" height="7.60" fill="#5e5cb6"/>
<rect x="131.00" y="441.00" width="10.85" height="7.60" fill="#5e5cb6"/>
<rect x="141.25" y="441.00" width="10.85" height="7.60" fill="#b0acda"/>
<rect x="151.50" y="441.00" width="10.85" height="7.60" fill="#9692ce"/>
<rect x="161.75" y="441.00" width="10.85" height="7.60" fill="#fefeff"/>
<rect x="172.00" y="441.00" width="10.85" height="7.60" fill="#7a76c2"/>
<rect x="182.25" y="441.00" width="10.85" height="7.60" fill="#4046aa"/>
<rect x="192.50" y="441.00" width="10.85" height="7.60" fill="#7a76c2"/>
<rect x="202.75" y="441.00" width="10.25" height="7.60" fill="#2a3aa0"/>
<rect x="90.00" y="448.00" width="10.85" height="7.60" fill="#7a76c2"/>
<rect x="100.25" y="448.00" width="10.85" height="7.60" fill="#7a76c2"/>
<rect x="110.50" y="448.00" width="10.85" height="7.60" fill="#eeedf8"/>
<rect x="120.75" y="448.00" width="10.85" height="7.60" fill="#dcdaf0"/>
<rect x="131.00" y="448.00" width="10.85" height="7.60" fill="#dcdaf0"/>
<rect x="141.25" y="448.00" width="10.85" height="7.60" fill="#7a76c2"/>
<rect x="151.50" y="448.00" width="10.85" height="7.60" fill="#eeedf8"/>
<rect x="161.75" y="448.00" width="10.85" height="7.60" fill="#5e5cb6"/>
<rect x="172.00" y="448.00" width="10.85" height="7.60" fill="#fefeff"/>
<rect x="182.25" y="448.00" width="10.85" height="7.60" fill="#2a3aa0"/>
<rect x="192.50" y="448.00" width="10.85" height="7.60" fill="#eeedf8"/>
<rect x="202.75" y="448.00" width="10.25" height="7.60" fill="#2a3aa0"/>
<rect x="90.00" y="455.00" width="10.85" height="7.60" fill="#dcdaf0"/>
<rect x="100.25" y="455.00" width="10.85" height="7.60" fill="#c8c5e6"/>
<rect x="110.50" y="455.00" width="10.85" height="7.60" fill="#eeedf8"/>
<rect x="120.75" y="455.00" width="10.85" height="7.60" fill="#2a3aa0"/>
<rect x="131.00" y="455.00" width="10.85" height="7.60" fill="#7a76c2"/>
<rect x="141.25" y="455.00" width="10.85" height="7.60" fill="#7a76c2"/>
<rect x="151.50" y="455.00" width="10.85" height="7.60" fill="#fefeff"/>
<rect x="161.75" y="455.00" width="10.85" height="7.60" fill="#dcdaf0"/>
<rect x="172.00" y="455.00" width="10.85" height="7.60" fill="#fefeff"/>
<rect x="182.25" y="455.00" width="10.85" height="7.60" fill="#2a3aa0"/>
<rect x="192.50" y="455.00" width="10.85" height="7.60" fill="#2a3aa0"/>
<rect x="202.75" y="455.00" width="10.25" height="7.60" fill="#2a3aa0"/>
<rect x="90.00" y="462.00" width="10.85" height="7.60" fill="#2a3aa0"/>
<rect x="100.25" y="462.00" width="10.85" height="7.60" fill="#2a3aa0"/>
<rect x="110.50" y="462.00" width="10.85" height="7.60" fill="#2a3aa0"/>
<rect x="120.75" y="462.00" width="10.85" height="7.60" fill="#b0acda"/>
<rect x="131.00" y="462.00" width="10.85" height="7.60" fill="#c8c5e6"/>
<rect x="141.25" y="462.00" width="10.85" height="7.60" fill="#2a3aa0"/>
<rect x="151.50" y="462.00" width="10.85" height="7.60" fill="#2a3aa0"/>
<rect x="161.75" y="462.00" width="10.85" height="7.60" fill="#fefeff"/>
<rect x="172.00" y="462.00" width="10.85" height="7.60" fill="#dcdaf0"/>
<rect x="182.25" y="462.00" width="10.85" height="7.60" fill="#dcdaf0"/>
<rect x="192.50" y="462.00" width="10.85" height="7.60" fill="#2a3aa0"/>
<rect x="202.75" y="462.00" width="10.25" height="7.60" fill="#9692ce"/>
<rect x="90.00" y="469.00" width="10.85" height="7.00" fill="#2a3aa0"/>
<rect x="100.25" y="469.00" width="10.85" height="7.00" fill="#2a3aa0"/>
<rect x="110.50" y="469.00" width="10.85" height="7.00" fill="#b0acda"/>
<rect x="120.75" y="469.00" width="10.85" height="7.00" fill="#fefeff"/>
<rect x="131.00" y="469.00" width="10.85" height="7.00" fill="#fefeff"/>
<rect x="141.25" y="469.00" width="10.85" height="7.00" fill="#fefeff"/>
<rect x="151.50" y="469.00" width="10.85" height="7.00" fill="#eeedf8"/>
<rect x="161.75" y="469.00" width="10.85" height="7.00" fill="#fefeff"/>
<rect x="172.00" y="469.00" width="10.85" height="7.00" fill="#fefeff"/>
<rect x="182.25" y="469.00" width="10.85" height="7.00" fill="#eeedf8"/>
<rect x="192.50" y="469.00" width="10.85" height="7.00" fill="#5e5cb6"/>
<rect x="202.75" y="469.00" width="10.25" height="7.00" fill="#fefeff"/>
<path d="M100.25 259.00V476.00M110.50 259.00V476.00M120.75 259.00V476.00M131.00 259.00V476.00M141.25 259.00V476.00M151.50 259.00V476.00M161.75 259.00V476.00M172.00 259.00V476.00M182.25 259.00V476.00M192.50 259.00V476.00M202.75 259.00V476.00M90.00 266.00H213.00M90.00 273.00H213.00M90.00 280.00H213.00M90.00 287.00H213.00M90.00 294.00H213.00M90.00 301.00H213.00M90.00 308.00H213.00M90.00 315.00H213.00M90.00 322.00H213.00M90.00 329.00H213.00M90.00 336.00H213.00M90.00 343.00H213.00M90.00 350.00H213.00M90.00 357.00H213.00M90.00 364.00H213.00M90.00 371.00H213.00M90.00 378.00H213.00M90.00 385.00H213.00M90.00 392.00H213.00M90.00 399.00H213.00M90.00 406.00H213.00M90.00 413.00H213.00M90.00 420.00H213.00M90.00 427.00H213.00M90.00 434.00H213.00M90.00 441.00H213.00M90.00 448.00H213.00M90.00 455.00H213.00M90.00 462.00H213.00M90.00 469.00H213.00" stroke="#999" stroke-opacity="0.14" stroke-width="0.5" fill="none"/>
<text x="216.20" y="264.60" font-size="6.70" fill="#2e2e2e" letter-spacing="0.18">IL-2</text>
<text x="216.20" y="271.61" font-size="6.70" fill="#2e2e2e" letter-spacing="0.18">GM-CSF</text>
<text x="216.20" y="278.61" font-size="6.70" fill="#2e2e2e" letter-spacing="0.18">IFN-γ</text>
<text x="216.20" y="285.62" font-size="6.70" fill="#2e2e2e" letter-spacing="0.18">IL-12p40</text>
<text x="216.20" y="292.63" font-size="6.70" fill="#2e2e2e" letter-spacing="0.18">IL-9</text>
<text x="216.20" y="299.63" font-size="6.70" fill="#2e2e2e" letter-spacing="0.18">IL-13</text>
<text x="216.20" y="306.64" font-size="6.70" fill="#2e2e2e" letter-spacing="0.18">IL-12p70</text>
<text x="216.20" y="313.65" font-size="6.70" fill="#2e2e2e" letter-spacing="0.18">IL-17</text>
<text x="216.20" y="320.66" font-size="6.70" fill="#2e2e2e" letter-spacing="0.18">IL-5</text>
<text x="216.20" y="327.66" font-size="6.70" fill="#2e2e2e" letter-spacing="0.18">M-CSF</text>
<text x="216.20" y="334.67" font-size="6.70" fill="#2e2e2e" letter-spacing="0.18">IL-7</text>
<text x="216.20" y="341.68" font-size="6.70" fill="#2e2e2e" letter-spacing="0.18">CXCL2/MIP2</text>
<text x="216.20" y="348.68" font-size="6.70" fill="#2e2e2e" letter-spacing="0.18">G-CSF</text>
<text x="216.20" y="355.69" font-size="6.70" fill="#2e2e2e" letter-spacing="0.18">IL-4</text>
<text x="216.20" y="362.70" font-size="6.70" fill="#2e2e2e" letter-spacing="0.18">IL-10</text>
<text x="216.20" y="369.71" font-size="6.70" fill="#2e2e2e" letter-spacing="0.18">IL-3</text>
<text x="216.20" y="376.71" font-size="6.70" fill="#2e2e2e" letter-spacing="0.18">IL-1α</text>
<text x="216.20" y="383.72" font-size="6.70" fill="#2e2e2e" letter-spacing="0.18">IL-15</text>
<text x="216.20" y="390.73" font-size="6.70" fill="#2e2e2e" letter-spacing="0.18">CXCL5/LIX</text>
<text x="216.20" y="397.73" font-size="6.70" fill="#2e2e2e" letter-spacing="0.18">CCL2/MCP1</text>
<text x="216.20" y="404.74" font-size="6.70" fill="#2e2e2e" letter-spacing="0.18">IL-1β</text>
<text x="216.20" y="411.75" font-size="6.70" fill="#2e2e2e" letter-spacing="0.18">IL-6</text>
<text x="216.20" y="418.75" font-size="6.70" fill="#2e2e2e" letter-spacing="0.18">CCL3/MIP1α</text>
<text x="216.20" y="425.76" font-size="6.70" fill="#2e2e2e" letter-spacing="0.18">CCL4/MIP1β</text>
<text x="216.20" y="432.77" font-size="6.70" fill="#2e2e2e" letter-spacing="0.18">CCL11/Eotaxin</text>
<text x="216.20" y="439.77" font-size="6.70" fill="#2e2e2e" letter-spacing="0.18">CXCL10/IP10</text>
<text x="216.20" y="446.78" font-size="6.70" fill="#2e2e2e" letter-spacing="0.18">CCL5/RANTES</text>
<text x="216.20" y="453.79" font-size="6.70" fill="#2e2e2e" letter-spacing="0.18">TNFα</text>
<text x="216.20" y="460.80" font-size="6.70" fill="#2e2e2e" letter-spacing="0.18">CXCL1/KC</text>
<text x="216.20" y="467.80" font-size="6.70" fill="#2e2e2e" letter-spacing="0.18">CXCL9/MIG</text>
<text x="216.20" y="474.81" font-size="6.70" fill="#2e2e2e" letter-spacing="0.18">VEGF</text>
<path d="M88.40 276.57H84.50M88.40 283.61H84.50M84.50 276.57V283.61M88.40 269.55H82.10M84.50 280.09H82.10M82.10 269.55V280.09M88.40 262.51H77.80M82.10 276.58H77.80M77.80 262.51V276.58M88.40 290.63H82.80M88.40 297.67H82.80M82.80 290.63V297.67M88.40 304.69H85.90M88.40 311.73H85.90M85.90 304.69V311.73M88.40 318.75H85.50M88.40 325.78H85.50M85.50 318.75V325.78M85.90 308.21H83.20M85.50 322.27H83.20M83.20 308.21V322.27M82.80 294.15H80.50M83.20 315.24H80.50M80.50 294.15V315.24M77.80 273.06H74.70M80.50 308.21H74.70M74.70 273.06V308.21M88.40 332.81H73.80M88.40 339.85H73.80M73.80 332.81V339.85M74.70 294.15H68.40M73.80 336.33H68.40M68.40 294.15V336.33M88.40 346.88H85.50M88.40 353.90H85.50M85.50 346.88V353.90M88.40 360.94H86.00M88.40 367.97H86.00M86.00 360.94V367.97M85.50 350.39H83.00M86.00 364.45H83.00M83.00 350.39V364.45M88.40 382.02H86.50M88.40 389.06H86.50M86.50 382.02V389.06M88.40 375.00H83.50M86.50 385.54H83.50M83.50 375.00V385.54M83.00 357.42H81.40M83.50 382.02H81.40M81.40 357.42V382.02M81.40 367.97H72.00M88.40 396.09H72.00M72.00 367.97V396.09M88.40 417.18H86.00M88.40 424.21H86.00M86.00 417.18V424.21M88.40 410.14H85.50M86.00 420.69H85.50M85.50 410.14V420.69M88.40 403.12H82.10M85.50 417.18H82.10M82.10 403.12V417.18M88.40 438.26H84.30M88.40 445.30H84.30M84.30 438.26V445.30M88.40 431.24H82.10M84.30 441.78H82.10M82.10 431.24V441.78M82.10 413.66H80.10M82.10 438.26H80.10M80.10 413.66V438.26M80.10 424.21H75.30M88.40 452.33H75.30M75.30 424.21V452.33M75.30 427.72H74.70M88.40 459.36H74.70M74.70 427.72V459.36M72.00 371.48H67.30M74.70 431.24H67.30M67.30 371.48V431.24M68.40 301.18H59.90M67.30 403.12H59.90M59.90 301.18V403.12M88.40 466.38H69.30M88.40 473.42H69.30M69.30 466.38V473.42M59.90 360.94H41.40M69.30 469.90H41.40M41.40 360.94V469.90" stroke="#888888" stroke-width="0.80" fill="none" stroke-linecap="square"/>
<text transform="translate(28.8 378.5) rotate(-90)" font-size="12.5" text-anchor="middle" fill="#222" textLength="76" lengthAdjust="spacingAndGlyphs">Bone marrow</text>
<defs><linearGradient id="g1063" x1="0" x2="1" y1="0" y2="0"><stop offset="0" stop-color="#ffffff"/><stop offset="0.3" stop-color="#b4b4d6"/><stop offset="0.5" stop-color="#4a4c9a"/><stop offset="0.62" stop-color="#2e3490"/><stop offset="1" stop-color="#2c3592"/></linearGradient></defs>
<rect x="52.10" y="484.90" width="43.60" height="3.10" fill="url(#g1063)" stroke="#333" stroke-width="0.4"/>
<path d="M48.10 490.40H55.10M92.70 490.40H100.70" stroke="#1a1a1a" stroke-width="1.1"/>
<text x="361.70" y="239.20" font-size="10.00" text-anchor="middle" fill="#222" textLength="24.2" lengthAdjust="spacingAndGlyphs">Early</text>
<text x="417.20" y="239.20" font-size="10.00" text-anchor="middle" fill="#222" textLength="21.2" lengthAdjust="spacingAndGlyphs">Late</text>
<path d="M330.00 243.00H380.00" stroke="#111" stroke-width="1.30"/>
<path d="M389.00 243.00H439.00" stroke="#111" stroke-width="1.30"/>
<text x="333.20" y="254.30" font-size="8.60" text-anchor="middle" fill="#222" textLength="12.5" lengthAdjust="spacingAndGlyphs">WT</text>
<text x="367.50" y="254.30" font-size="8.60" text-anchor="middle" fill="#222" textLength="26.3" lengthAdjust="spacingAndGlyphs">W515L</text>
<text x="398.10" y="254.30" font-size="8.60" text-anchor="middle" fill="#222" textLength="13.5" lengthAdjust="spacingAndGlyphs">WT</text>
<text x="429.50" y="254.30" font-size="8.60" text-anchor="middle" fill="#222" textLength="26.3" lengthAdjust="spacingAndGlyphs">W515L</text>
<path d="M328.00 257.20H351.60" stroke="#111" stroke-width="1.30"/>
<path d="M358.60 257.20H380.00" stroke="#111" stroke-width="1.30"/>
<path d="M386.00 257.20H409.60" stroke="#111" stroke-width="1.30"/>
<path d="M417.70 257.20H441.20" stroke="#111" stroke-width="1.30"/>
<rect x="326.00" y="259.00" width="7.82" height="8.30" fill="#dcdaf0"/>
<rect x="333.22" y="259.00" width="7.82" height="8.30" fill="#c8c5e6"/>
<rect x="340.44" y="259.00" width="7.82" height="8.30" fill="#dcdaf0"/>
<rect x="347.66" y="259.00" width="7.82" height="8.30" fill="#b0acda"/>
<rect x="354.88" y="259.00" width="7.82" height="8.30" fill="#2a3aa0"/>
<rect x="362.10" y="259.00" width="7.82" height="8.30" fill="#5e5cb6"/>
<rect x="369.32" y="259.00" width="7.82" height="8.30" fill="#5e5cb6"/>
<rect x="376.54" y="259.00" width="7.82" height="8.30" fill="#5e5cb6"/>
<rect x="383.76" y="259.00" width="7.82" height="8.30" fill="#fefeff"/>
<rect x="390.98" y="259.00" width="7.82" height="8.30" fill="#eeedf8"/>
<rect x="398.20" y="259.00" width="7.82" height="8.30" fill="#eeedf8"/>
<rect x="405.42" y="259.00" width="7.82" height="8.30" fill="#eeedf8"/>
<rect x="412.64" y="259.00" width="7.82" height="8.30" fill="#c8c5e6"/>
<rect x="419.86" y="259.00" width="7.82" height="8.30" fill="#c8c5e6"/>
<rect x="427.08" y="259.00" width="7.82" height="8.30" fill="#c8c5e6"/>
<rect x="434.30" y="259.00" width="7.22" height="8.30" fill="#dcdaf0"/>
<rect x="326.00" y="266.70" width="7.82" height="8.30" fill="#dcdaf0"/>
<rect x="333.22" y="266.70" width="7.82" height="8.30" fill="#dcdaf0"/>
<rect x="340.44" y="266.70" width="7.82" height="8.30" fill="#fefeff"/>
<rect x="347.66" y="266.70" width="7.82" height="8.30" fill="#4046aa"/>
<rect x="354.88" y="266.70" width="7.82" height="8.30" fill="#fefeff"/>
<rect x="362.10" y="266.70" width="7.82" height="8.30" fill="#2a3aa0"/>
<rect x="369.32" y="266.70" width="7.82" height="8.30" fill="#dcdaf0"/>
<rect x="376.54" y="266.70" width="7.82" height="8.30" fill="#b0acda"/>
<rect x="383.76" y="266.70" width="7.82" height="8.30" fill="#c8c5e6"/>
<rect x="390.98" y="266.70" width="7.82" height="8.30" fill="#2a3aa0"/>
<rect x="398.20" y="266.70" width="7.82" height="8.30" fill="#7a76c2"/>
<rect x="405.42" y="266.70" width="7.82" height="8.30" fill="#2a3aa0"/>
<rect x="412.64" y="266.70" width="7.82" height="8.30" fill="#c8c5e6"/>
<rect x="419.86" y="266.70" width="7.82" height="8.30" fill="#c8c5e6"/>
<rect x="427.08" y="266.70" width="7.82" height="8.30" fill="#7a76c2"/>
<rect x="434.30" y="266.70" width="7.22" height="8.30" fill="#4046aa"/>
<rect x="326.00" y="274.40" width="7.82" height="8.30" fill="#dcdaf0"/>
<rect x="333.22" y="274.40" width="7.82" height="8.30" fill="#dcdaf0"/>
<rect x="340.44" y="274.40" width="7.82" height="8.30" fill="#fefeff"/>
<rect x="347.66" y="274.40" width="7.82" height="8.30" fill="#4046aa"/>
<rect x="354.88" y="274.40" width="7.82" height="8.30" fill="#fefeff"/>
<rect x="362.10" y="274.40" width="7.82" height="8.30" fill="#9692ce"/>
<rect x="369.32" y="274.40" width="7.82" height="8.30" fill="#dcdaf0"/>
<rect x="376.54" y="274.40" width="7.82" height="8.30" fill="#5e5cb6"/>
<rect x="383.76" y="274.40" width="7.82" height="8.30" fill="#7a76c2"/>
<rect x="390.98" y="274.40" width="7.82" height="8.30" fill="#2a3aa0"/>
<rect x="398.20" y="274.40" width="7.82" height="8.30" fill="#9692ce"/>
<rect x="405.42" y="274.40" width="7.82" height="8.30" fill="#4046aa"/>
<rect x="412.64" y="274.40" width="7.82" height="8.30" fill="#eeedf8"/>
<rect x="419.86" y="274.40" width="7.82" height="8.30" fill="#4046aa"/>
<rect x="427.08" y="274.40" width="7.82" height="8.30" fill="#5e5cb6"/>
<rect x="434.30" y="274.40" width="7.22" height="8.30" fill="#b0acda"/>
<rect x="326.00" y="282.10" width="7.82" height="8.30" fill="#c8c5e6"/>
<rect x="333.22" y="282.10" width="7.82" height="8.30" fill="#c8c5e6"/>
<rect x="340.44" y="282.10" width="7.82" height="8.30" fill="#fefeff"/>
<rect x="347.66" y="282.10" width="7.82" height="8.30" fill="#4046aa"/>
<rect x="354.88" y="282.10" width="7.82" height="8.30" fill="#4046aa"/>
<rect x="362.10" y="282.10" width="7.82" height="8.30" fill="#2a3aa0"/>
<rect x="369.32" y="282.10" width="7.82" height="8.30" fill="#4046aa"/>
<rect x="376.54" y="282.10" width="7.82" height="8.30" fill="#4046aa"/>
<rect x="383.76" y="282.10" width="7.82" height="8.30" fill="#eeedf8"/>
<rect x="390.98" y="282.10" width="7.82" height="8.30" fill="#5e5cb6"/>
<rect x="398.20" y="282.10" width="7.82" height="8.30" fill="#fefeff"/>
<rect x="405.42" y="282.10" width="7.82" height="8.30" fill="#5e5cb6"/>
<rect x="412.64" y="282.10" width="7.82" height="8.30" fill="#9692ce"/>
<rect x="419.86" y="282.10" width="7.82" height="8.30" fill="#5e5cb6"/>
<rect x="427.08" y="282.10" width="7.82" height="8.30" fill="#b0acda"/>
<rect x="434.30" y="282.10" width="7.22" height="8.30" fill="#b0acda"/>
<rect x="326.00" y="289.80" width="7.82" height="8.30" fill="#c8c5e6"/>
<rect x="333.22" y="289.80" width="7.82" height="8.30" fill="#c8c5e6"/>
<rect x="340.44" y="289.80" width="7.82" height="8.30" fill="#fefeff"/>
<rect x="347.66" y="289.80" width="7.82" height="8.30" fill="#4046aa"/>
<rect x="354.88" y="289.80" width="7.82" height="8.30" fill="#4046aa"/>
<rect x="362.10" y="289.80" width="7.82" height="8.30" fill="#4046aa"/>
<rect x="369.32" y="289.80" width="7.82" height="8.30" fill="#4046aa"/>
<rect x="376.54" y="289.80" width="7.82" height="8.30" fill="#4046aa"/>
<rect x="383.76" y="289.80" width="7.82" height="8.30" fill="#c8c5e6"/>
<rect x="390.98" y="289.80" width="7.82" height="8.30" fill="#4046aa"/>
<rect x="398.20" y="289.80" width="7.82" height="8.30" fill="#c8c5e6"/>
<rect x="405.42" y="289.80" width="7.82" height="8.30" fill="#5e5cb6"/>
<rect x="412.64" y="289.80" width="7.82" height="8.30" fill="#5e5cb6"/>
<rect x="419.86" y="289.80" width="7.82" height="8.30" fill="#5e5cb6"/>
<rect x="427.08" y="289.80" width="7.82" height="8.30" fill="#5e5cb6"/>
<rect x="434.30" y="289.80" width="7.22" height="8.30" fill="#5e5cb6"/>
<rect x="326.00" y="297.50" width="7.82" height="8.30" fill="#c8c5e6"/>
<rect x="333.22" y="297.50" width="7.82" height="8.30" fill="#eeedf8"/>
<rect x="340.44" y="297.50" width="7.82" height="8.30" fill="#fefeff"/>
<rect x="347.66" y="297.50" width="7.82" height="8.30" fill="#5e5cb6"/>
<rect x="354.88" y="297.50" width="7.82" height="8.30" fill="#b0acda"/>
<rect x="362.10" y="297.50" width="7.82" height="8.30" fill="#2a3aa0"/>
<rect x="369.32" y="297.50" width="7.82" height="8.30" fill="#7a76c2"/>
<rect x="376.54" y="297.50" width="7.82" height="8.30" fill="#5e5cb6"/>
<rect x="383.76" y="297.50" width="7.82" height="8.30" fill="#b0acda"/>
<rect x="390.98" y="297.50" width="7.82" height="8.30" fill="#2a3aa0"/>
<rect x="398.20" y="297.50" width="7.82" height="8.30" fill="#9692ce"/>
<rect x="405.42" y="297.50" width="7.82" height="8.30" fill="#2a3aa0"/>
<rect x="412.64" y="297.50" width="7.82" height="8.30" fill="#b0acda"/>
<rect x="419.86" y="297.50" width="7.82" height="8.30" fill="#9692ce"/>
<rect x="427.08" y="297.50" width="7.82" height="8.30" fill="#9692ce"/>
<rect x="434.30" y="297.50" width="7.22" height="8.30" fill="#9692ce"/>
<rect x="326.00" y="305.20" width="7.82" height="8.30" fill="#eeedf8"/>
<rect x="333.22" y="305.20" width="7.82" height="8.30" fill="#eeedf8"/>
<rect x="340.44" y="305.20" width="7.82" height="8.30" fill="#fefeff"/>
<rect x="347.66" y="305.20" width="7.82" height="8.30" fill="#9692ce"/>
<rect x="354.88" y="305.20" width="7.82" height="8.30" fill="#5e5cb6"/>
<rect x="362.10" y="305.20" width="7.82" height="8.30" fill="#4046aa"/>
<rect x="369.32" y="305.20" width="7.82" height="8.30" fill="#4046aa"/>
<rect x="376.54" y="305.20" width="7.82" height="8.30" fill="#5e5cb6"/>
<rect x="383.76" y="305.20" width="7.82" height="8.30" fill="#b0acda"/>
<rect x="390.98" y="305.20" width="7.82" height="8.30" fill="#2a3aa0"/>
<rect x="398.20" y="305.20" width="7.82" height="8.30" fill="#b0acda"/>
<rect x="405.42" y="305.20" width="7.82" height="8.30" fill="#2a3aa0"/>
<rect x="412.64" y="305.20" width="7.82" height="8.30" fill="#7a76c2"/>
<rect x="419.86" y="305.20" width="7.82" height="8.30" fill="#7a76c2"/>
<rect x="427.08" y="305.20" width="7.82" height="8.30" fill="#7a76c2"/>
<rect x="434.30" y="305.20" width="7.22" height="8.30" fill="#b0acda"/>
<rect x="326.00" y="312.90" width="7.82" height="8.30" fill="#fefeff"/>
<rect x="333.22" y="312.90" width="7.82" height="8.30" fill="#eeedf8"/>
<rect x="340.44" y="312.90" width="7.82" height="8.30" fill="#fefeff"/>
<rect x="347.66" y="312.90" width="7.82" height="8.30" fill="#eeedf8"/>
<rect x="354.88" y="312.90" width="7.82" height="8.30" fill="#2a3aa0"/>
<rect x="362.10" y="312.90" width="7.82" height="8.30" fill="#dcdaf0"/>
<rect x="369.32" y="312.90" width="7.82" height="8.30" fill="#5e5cb6"/>
<rect x="376.54" y="312.90" width="7.82" height="8.30" fill="#7a76c2"/>
<rect x="383.76" y="312.90" width="7.82" height="8.30" fill="#eeedf8"/>
<rect x="390.98" y="312.90" width="7.82" height="8.30" fill="#dcdaf0"/>
<rect x="398.20" y="312.90" width="7.82" height="8.30" fill="#eeedf8"/>
<rect x="405.42" y="312.90" width="7.82" height="8.30" fill="#eeedf8"/>
<rect x="412.64" y="312.90" width="7.82" height="8.30" fill="#2a3aa0"/>
<rect x="419.86" y="312.90" width="7.82" height="8.30" fill="#2a3aa0"/>
<rect x="427.08" y="312.90" width="7.82" height="8.30" fill="#2a3aa0"/>
<rect x="434.30" y="312.90" width="7.22" height="8.30" fill="#4046aa"/>
<rect x="326.00" y="320.60" width="7.82" height="8.30" fill="#eeedf8"/>
<rect x="333.22" y="320.60" width="7.82" height="8.30" fill="#eeedf8"/>
<rect x="340.44" y="320.60" width="7.82" height="8.30" fill="#fefeff"/>
<rect x="347.66" y="320.60" width="7.82" height="8.30" fill="#eeedf8"/>
<rect x="354.88" y="320.60" width="7.82" height="8.30" fill="#5e5cb6"/>
<rect x="362.10" y="320.60" width="7.82" height="8.30" fill="#eeedf8"/>
<rect x="369.32" y="320.60" width="7.82" height="8.30" fill="#5e5cb6"/>
<rect x="376.54" y="320.60" width="7.82" height="8.30" fill="#5e5cb6"/>
<rect x="383.76" y="320.60" width="7.82" height="8.30" fill="#eeedf8"/>
<rect x="390.98" y="320.60" width="7.82" height="8.30" fill="#b0acda"/>
<rect x="398.20" y="320.60" width="7.82" height="8.30" fill="#eeedf8"/>
<rect x="405.42" y="320.60" width="7.82" height="8.30" fill="#c8c5e6"/>
<rect x="412.64" y="320.60" width="7.82" height="8.30" fill="#4046aa"/>
<rect x="419.86" y="320.60" width="7.82" height="8.30" fill="#2a3aa0"/>
<rect x="427.08" y="320.60" width="7.82" height="8.30" fill="#2a3aa0"/>
<rect x="434.30" y="320.60" width="7.22" height="8.30" fill="#dcdaf0"/>
<rect x="326.00" y="328.30" width="7.82" height="8.30" fill="#fefeff"/>
<rect x="333.22" y="328.30" width="7.82" height="8.30" fill="#c8c5e6"/>
<rect x="340.44" y="328.30" width="7.82" height="8.30" fill="#fefeff"/>
<rect x="347.66" y="328.30" width="7.82" height="8.30" fill="#9692ce"/>
<rect x="354.88" y="328.30" width="7.82" height="8.30" fill="#fefeff"/>
<rect x="362.10" y="328.30" width="7.82" height="8.30" fill="#fefeff"/>
<rect x="369.32" y="328.30" width="7.82" height="8.30" fill="#dcdaf0"/>
<rect x="376.54" y="328.30" width="7.82" height="8.30" fill="#7a76c2"/>
<rect x="383.76" y="328.30" width="7.82" height="8.30" fill="#fefeff"/>
<rect x="390.98" y="328.30" width="7.82" height="8.30" fill="#c8c5e6"/>
<rect x="398.20" y="328.30" width="7.82" height="8.30" fill="#dcdaf0"/>
<rect x="405.42" y="328.30" width="7.82" height="8.30" fill="#dcdaf0"/>
<rect x="412.64" y="328.30" width="7.82" height="8.30" fill="#7a76c2"/>
<rect x="419.86" y="328.30" width="7.82" height="8.30" fill="#4046aa"/>
<rect x="427.08" y="328.30" width="7.82" height="8.30" fill="#4046aa"/>
<rect x="434.30" y="328.30" width="7.22" height="8.30" fill="#4046aa"/>
<rect x="326.00" y="336.00" width="7.82" height="8.30" fill="#fefeff"/>
<rect x="333.22" y="336.00" width="7.82" height="8.30" fill="#fefeff"/>
<rect x="340.44" y="336.00" width="7.82" height="8.30" fill="#fefeff"/>
<rect x="347.66" y="336.00" width="7.82" height="8.30" fill="#c8c5e6"/>
<rect x="354.88" y="336.00" width="7.82" height="8.30" fill="#7a76c2"/>
<rect x="362.10" y="336.00" width="7.82" height="8.30" fill="#c8c5e6"/>
<rect x="369.32" y="336.00" width="7.82" height="8.30" fill="#2a3aa0"/>
<rect x="376.54" y="336.00" width="7.82" height="8.30" fill="#4046aa"/>
<rect x="383.76" y="336.00" width="7.82" height="8.30" fill="#fefeff"/>
<rect x="390.98" y="336.00" width="7.82" height="8.30" fill="#dcdaf0"/>
<rect x="398.20" y="336.00" width="7.82" height="8.30" fill="#fefeff"/>
<rect x="405.42" y="336.00" width="7.82" height="8.30" fill="#dcdaf0"/>
<rect x="412.64" y="336.00" width="7.82" height="8.30" fill="#2a3aa0"/>
<rect x="419.86" y="336.00" width="7.82" height="8.30" fill="#5e5cb6"/>
<rect x="427.08" y="336.00" width="7.82" height="8.30" fill="#4046aa"/>
<rect x="434.30" y="336.00" width="7.22" height="8.30" fill="#4046aa"/>
<rect x="326.00" y="343.70" width="7.82" height="8.30" fill="#fefeff"/>
<rect x="333.22" y="343.70" width="7.82" height="8.30" fill="#fefeff"/>
<rect x="340.44" y="343.70" width="7.82" height="8.30" fill="#fefeff"/>
<rect x="347.66" y="343.70" width="7.82" height="8.30" fill="#fefeff"/>
<rect x="354.88" y="343.70" width="7.82" height="8.30" fill="#b0acda"/>
<rect x="362.10" y="343.70" width="7.82" height="8.30" fill="#fefeff"/>
<rect x="369.32" y="343.70" width="7.82" height="8.30" fill="#9692ce"/>
<rect x="376.54" y="343.70" width="7.82" height="8.30" fill="#9692ce"/>
<rect x="383.76" y="343.70" width="7.82" height="8.30" fill="#fefeff"/>
<rect x="390.98" y="343.70" width="7.82" height="8.30" fill="#fefeff"/>
<rect x="398.20" y="343.70" width="7.82" height="8.30" fill="#fefeff"/>
<rect x="405.42" y="343.70" width="7.82" height="8.30" fill="#fefeff"/>
<rect x="412.64" y="343.70" width="7.82" height="8.30" fill="#2a3aa0"/>
<rect x="419.86" y="343.70" width="7.82" height="8.30" fill="#5e5cb6"/>
<rect x="427.08" y="343.70" width="7.82" height="8.30" fill="#4046aa"/>
<rect x="434.30" y="343.70" width="7.22" height="8.30" fill="#4046aa"/>
<rect x="326.00" y="351.40" width="7.82" height="8.30" fill="#fefeff"/>
<rect x="333.22" y="351.40" width="7.82" height="8.30" fill="#dcdaf0"/>
<rect x="340.44" y="351.40" width="7.82" height="8.30" fill="#eeedf8"/>
<rect x="347.66" y="351.40" width="7.82" height="8.30" fill="#dcdaf0"/>
<rect x="354.88" y="351.40" width="7.82" height="8.30" fill="#b0acda"/>
<rect x="362.10" y="351.40" width="7.82" height="8.30" fill="#dcdaf0"/>
<rect x="369.32" y="351.40" width="7.82" height="8.30" fill="#7a76c2"/>
<rect x="376.54" y="351.40" width="7.82" height="8.30" fill="#7a76c2"/>
<rect x="383.76" y="351.40" width="7.82" height="8.30" fill="#eeedf8"/>
<rect x="390.98" y="351.40" width="7.82" height="8.30" fill="#eeedf8"/>
<rect x="398.20" y="351.40" width="7.82" height="8.30" fill="#eeedf8"/>
<rect x="405.42" y="351.40" width="7.82" height="8.30" fill="#eeedf8"/>
<rect x="412.64" y="351.40" width="7.82" height="8.30" fill="#4046aa"/>
<rect x="419.86" y="351.40" width="7.82" height="8.30" fill="#9692ce"/>
<rect x="427.08" y="351.40" width="7.82" height="8.30" fill="#4046aa"/>
<rect x="434.30" y="351.40" width="7.22" height="8.30" fill="#2a3aa0"/>
<rect x="326.00" y="359.10" width="7.82" height="8.30" fill="#fefeff"/>
<rect x="333.22" y="359.10" width="7.82" height="8.30" fill="#fefeff"/>
<rect x="340.44" y="359.10" width="7.82" height="8.30" fill="#fefeff"/>
<rect x="347.66" y="359.10" width="7.82" height="8.30" fill="#fefeff"/>
<rect x="354.88" y="359.10" width="7.82" height="8.30" fill="#fefeff"/>
<rect x="362.10" y="359.10" width="7.82" height="8.30" fill="#fefeff"/>
<rect x="369.32" y="359.10" width="7.82" height="8.30" fill="#fefeff"/>
<rect x="376.54" y="359.10" width="7.82" height="8.30" fill="#fefeff"/>
<rect x="383.76" y="359.10" width="7.82" height="8.30" fill="#fefeff"/>
<rect x="390.98" y="359.10" width="7.82" height="8.30" fill="#fefeff"/>
<rect x="398.20" y="359.10" width="7.82" height="8.30" fill="#fefeff"/>
<rect x="405.42" y="359.10" width="7.82" height="8.30" fill="#fefeff"/>
<rect x="412.64" y="359.10" width="7.82" height="8.30" fill="#7a76c2"/>
<rect x="419.86" y="359.10" width="7.82" height="8.30" fill="#4046aa"/>
<rect x="427.08" y="359.10" width="7.82" height="8.30" fill="#4046aa"/>
<rect x="434.30" y="359.10" width="7.22" height="8.30" fill="#b0acda"/>
<rect x="326.00" y="366.80" width="7.82" height="8.30" fill="#fefeff"/>
<rect x="333.22" y="366.80" width="7.82" height="8.30" fill="#fefeff"/>
<rect x="340.44" y="366.80" width="7.82" height="8.30" fill="#fefeff"/>
<rect x="347.66" y="366.80" width="7.82" height="8.30" fill="#fefeff"/>
<rect x="354.88" y="366.80" width="7.82" height="8.30" fill="#b0acda"/>
<rect x="362.10" y="366.80" width="7.82" height="8.30" fill="#fefeff"/>
<rect x="369.32" y="366.80" width="7.82" height="8.30" fill="#dcdaf0"/>
<rect x="376.54" y="366.80" width="7.82" height="8.30" fill="#dcdaf0"/>
<rect x="383.76" y="366.80" width="7.82" height="8.30" fill="#eeedf8"/>
<rect x="390.98" y="366.80" width="7.82" height="8.30" fill="#dcdaf0"/>
<rect x="398.20" y="366.80" width="7.82" height="8.30" fill="#eeedf8"/>
<rect x="405.42" y="366.80" width="7.82" height="8.30" fill="#eeedf8"/>
<rect x="412.64" y="366.80" width="7.82" height="8.30" fill="#2a3aa0"/>
<rect x="419.86" y="366.80" width="7.82" height="8.30" fill="#4046aa"/>
<rect x="427.08" y="366.80" width="7.82" height="8.30" fill="#4046aa"/>
<rect x="434.30" y="366.80" width="7.22" height="8.30" fill="#4046aa"/>
<rect x="326.00" y="374.50" width="7.82" height="8.30" fill="#eeedf8"/>
<rect x="333.22" y="374.50" width="7.82" height="8.30" fill="#fefeff"/>
<rect x="340.44" y="374.50" width="7.82" height="8.30" fill="#fefeff"/>
<rect x="347.66" y="374.50" width="7.82" height="8.30" fill="#dcdaf0"/>
<rect x="354.88" y="374.50" width="7.82" height="8.30" fill="#c8c5e6"/>
<rect x="362.10" y="374.50" width="7.82" height="8.30" fill="#eeedf8"/>
<rect x="369.32" y="374.50" width="7.82" height="8.30" fill="#eeedf8"/>
<rect x="376.54" y="374.50" width="7.82" height="8.30" fill="#9692ce"/>
<rect x="383.76" y="374.50" width="7.82" height="8.30" fill="#fefeff"/>
<rect x="390.98" y="374.50" width="7.82" height="8.30" fill="#c8c5e6"/>
<rect x="398.20" y="374.50" width="7.82" height="8.30" fill="#eeedf8"/>
<rect x="405.42" y="374.50" width="7.82" height="8.30" fill="#c8c5e6"/>
<rect x="412.64" y="374.50" width="7.82" height="8.30" fill="#2a3aa0"/>
<rect x="419.86" y="374.50" width="7.82" height="8.30" fill="#4046aa"/>
<rect x="427.08" y="374.50" width="7.82" height="8.30" fill="#4046aa"/>
<rect x="434.30" y="374.50" width="7.22" height="8.30" fill="#4046aa"/>
<rect x="326.00" y="382.20" width="7.82" height="8.30" fill="#fefeff"/>
<rect x="333.22" y="382.20" width="7.82" height="8.30" fill="#fefeff"/>
<rect x="340.44" y="382.20" width="7.82" height="8.30" fill="#fefeff"/>
<rect x="347.66" y="382.20" width="7.82" height="8.30" fill="#fefeff"/>
<rect x="354.88" y="382.20" width="7.82" height="8.30" fill="#dcdaf0"/>
<rect x="362.10" y="382.20" width="7.82" height="8.30" fill="#eeedf8"/>
<rect x="369.32" y="382.20" width="7.82" height="8.30" fill="#eeedf8"/>
<rect x="376.54" y="382.20" width="7.82" height="8.30" fill="#b0acda"/>
<rect x="383.76" y="382.20" width="7.82" height="8.30" fill="#fefeff"/>
<rect x="390.98" y="382.20" width="7.82" height="8.30" fill="#dcdaf0"/>
<rect x="398.20" y="382.20" width="7.82" height="8.30" fill="#fefeff"/>
<rect x="405.42" y="382.20" width="7.82" height="8.30" fill="#eeedf8"/>
<rect x="412.64" y="382.20" width="7.82" height="8.30" fill="#2a3aa0"/>
<rect x="419.86" y="382.20" width="7.82" height="8.30" fill="#4046aa"/>
<rect x="427.08" y="382.20" width="7.82" height="8.30" fill="#4046aa"/>
<rect x="434.30" y="382.20" width="7.22" height="8.30" fill="#4046aa"/>
<rect x="326.00" y="389.90" width="7.82" height="8.30" fill="#fefeff"/>
<rect x="333.22" y="389.90" width="7.82" height="8.30" fill="#fefeff"/>
<rect x="340.44" y="389.90" width="7.82" height="8.30" fill="#fefeff"/>
<rect x="347.66" y="389.90" width="7.82" height="8.30" fill="#fefeff"/>
<rect x="354.88" y="389.90" width="7.82" height="8.30" fill="#dcdaf0"/>
<rect x="362.10" y="389.90" width="7.82" height="8.30" fill="#fefeff"/>
<rect x="369.32" y="389.90" width="7.82" height="8.30" fill="#eeedf8"/>
<rect x="376.54" y="389.90" width="7.82" height="8.30" fill="#dcdaf0"/>
<rect x="383.76" y="389.90" width="7.82" height="8.30" fill="#fefeff"/>
<rect x="390.98" y="389.90" width="7.82" height="8.30" fill="#fefeff"/>
<rect x="398.20" y="389.90" width="7.82" height="8.30" fill="#fefeff"/>
<rect x="405.42" y="389.90" width="7.82" height="8.30" fill="#fefeff"/>
<rect x="412.64" y="389.90" width="7.82" height="8.30" fill="#4046aa"/>
<rect x="419.86" y="389.90" width="7.82" height="8.30" fill="#4046aa"/>
<rect x="427.08" y="389.90" width="7.82" height="8.30" fill="#4046aa"/>
<rect x="434.30" y="389.90" width="7.22" height="8.30" fill="#4046aa"/>
<rect x="326.00" y="397.60" width="7.82" height="8.30" fill="#fefeff"/>
<rect x="333.22" y="397.60" width="7.82" height="8.30" fill="#fefeff"/>
<rect x="340.44" y="397.60" width="7.82" height="8.30" fill="#fefeff"/>
<rect x="347.66" y="397.60" width="7.82" height="8.30" fill="#fefeff"/>
<rect x="354.88" y="397.60" width="7.82" height="8.30" fill="#c8c5e6"/>
<rect x="362.10" y="397.60" width="7.82" height="8.30" fill="#fefeff"/>
<rect x="369.32" y="397.60" width="7.82" height="8.30" fill="#dcdaf0"/>
<rect x="376.54" y="397.60" width="7.82" height="8.30" fill="#c8c5e6"/>
<rect x="383.76" y="397.60" width="7.82" height="8.30" fill="#fefeff"/>
<rect x="390.98" y="397.60" width="7.82" height="8.30" fill="#fefeff"/>
<rect x="398.20" y="397.60" width="7.82" height="8.30" fill="#fefeff"/>
<rect x="405.42" y="397.60" width="7.82" height="8.30" fill="#fefeff"/>
<rect x="412.64" y="397.60" width="7.82" height="8.30" fill="#4046aa"/>
<rect x="419.86" y="397.60" width="7.82" height="8.30" fill="#4046aa"/>
<rect x="427.08" y="397.60" width="7.82" height="8.30" fill="#4046aa"/>
<rect x="434.30" y="397.60" width="7.22" height="8.30" fill="#4046aa"/>
<rect x="326.00" y="405.30" width="7.82" height="8.30" fill="#fefeff"/>
<rect x="333.22" y="405.30" width="7.82" height="8.30" fill="#eeedf8"/>
<rect x="340.44" y="405.30" width="7.82" height="8.30" fill="#eeedf8"/>
<rect x="347.66" y="405.30" width="7.82" height="8.30" fill="#eeedf8"/>
<rect x="354.88" y="405.30" width="7.82" height="8.30" fill="#c8c5e6"/>
<rect x="362.10" y="405.30" width="7.82" height="8.30" fill="#eeedf8"/>
<rect x="369.32" y="405.30" width="7.82" height="8.30" fill="#eeedf8"/>
<rect x="376.54" y="405.30" width="7.82" height="8.30" fill="#dcdaf0"/>
<rect x="383.76" y="405.30" width="7.82" height="8.30" fill="#fefeff"/>
<rect x="390.98" y="405.30" width="7.82" height="8.30" fill="#fefeff"/>
<rect x="398.20" y="405.30" width="7.82" height="8.30" fill="#fefeff"/>
<rect x="405.42" y="405.30" width="7.82" height="8.30" fill="#fefeff"/>
<rect x="412.64" y="405.30" width="7.82" height="8.30" fill="#4046aa"/>
<rect x="419.86" y="405.30" width="7.82" height="8.30" fill="#4046aa"/>
<rect x="427.08" y="405.30" width="7.82" height="8.30" fill="#4046aa"/>
<rect x="434.30" y="405.30" width="7.22" height="8.30" fill="#4046aa"/>
<rect x="326.00" y="413.00" width="7.82" height="8.30" fill="#fefeff"/>
<rect x="333.22" y="413.00" width="7.82" height="8.30" fill="#fefeff"/>
<rect x="340.44" y="413.00" width="7.82" height="8.30" fill="#fefeff"/>
<rect x="347.66" y="413.00" width="7.82" height="8.30" fill="#fefeff"/>
<rect x="354.88" y="413.00" width="7.82" height="8.30" fill="#7a76c2"/>
<rect x="362.10" y="413.00" width="7.82" height="8.30" fill="#fefeff"/>
<rect x="369.32" y="413.00" width="7.82" height="8.30" fill="#b0acda"/>
<rect x="376.54" y="413.00" width="7.82" height="8.30" fill="#5e5cb6"/>
<rect x="383.76" y="413.00" width="7.82" height="8.30" fill="#fefeff"/>
<rect x="390.98" y="413.00" width="7.82" height="8.30" fill="#fefeff"/>
<rect x="398.20" y="413.00" width="7.82" height="8.30" fill="#fefeff"/>
<rect x="405.42" y="413.00" width="7.82" height="8.30" fill="#fefeff"/>
<rect x="412.64" y="413.00" width="7.82" height="8.30" fill="#4046aa"/>
<rect x="419.86" y="413.00" width="7.82" height="8.30" fill="#4046aa"/>
<rect x="427.08" y="413.00" width="7.82" height="8.30" fill="#4046aa"/>
<rect x="434.30" y="413.00" width="7.22" height="8.30" fill="#4046aa"/>
<rect x="326.00" y="420.70" width="7.82" height="8.30" fill="#fefeff"/>
<rect x="333.22" y="420.70" width="7.82" height="8.30" fill="#eeedf8"/>
<rect x="340.44" y="420.70" width="7.82" height="8.30" fill="#fefeff"/>
<rect x="347.66" y="420.70" width="7.82" height="8.30" fill="#dcdaf0"/>
<rect x="354.88" y="420.70" width="7.82" height="8.30" fill="#9692ce"/>
<rect x="362.10" y="420.70" width="7.82" height="8.30" fill="#eeedf8"/>
<rect x="369.32" y="420.70" width="7.82" height="8.30" fill="#b0acda"/>
<rect x="376.54" y="420.70" width="7.82" height="8.30" fill="#7a76c2"/>
<rect x="383.76" y="420.70" width="7.82" height="8.30" fill="#fefeff"/>
<rect x="390.98" y="420.70" width="7.82" height="8.30" fill="#c8c5e6"/>
<rect x="398.20" y="420.70" width="7.82" height="8.30" fill="#fefeff"/>
<rect x="405.42" y="420.70" width="7.82" height="8.30" fill="#dcdaf0"/>
<rect x="412.64" y="420.70" width="7.82" height="8.30" fill="#4046aa"/>
<rect x="419.86" y="420.70" width="7.82" height="8.30" fill="#4046aa"/>
<rect x="427.08" y="420.70" width="7.82" height="8.30" fill="#4046aa"/>
<rect x="434.30" y="420.70" width="7.22" height="8.30" fill="#4046aa"/>
<rect x="326.00" y="428.40" width="7.82" height="8.30" fill="#fefeff"/>
<rect x="333.22" y="428.40" width="7.82" height="8.30" fill="#eeedf8"/>
<rect x="340.44" y="428.40" width="7.82" height="8.30" fill="#fefeff"/>
<rect x="347.66" y="428.40" width="7.82" height="8.30" fill="#dcdaf0"/>
<rect x="354.88" y="428.40" width="7.82" height="8.30" fill="#5e5cb6"/>
<rect x="362.10" y="428.40" width="7.82" height="8.30" fill="#dcdaf0"/>
<rect x="369.32" y="428.40" width="7.82" height="8.30" fill="#b0acda"/>
<rect x="376.54" y="428.40" width="7.82" height="8.30" fill="#b0acda"/>
<rect x="383.76" y="428.40" width="7.82" height="8.30" fill="#fefeff"/>
<rect x="390.98" y="428.40" width="7.82" height="8.30" fill="#fefeff"/>
<rect x="398.20" y="428.40" width="7.82" height="8.30" fill="#fefeff"/>
<rect x="405.42" y="428.40" width="7.82" height="8.30" fill="#fefeff"/>
<rect x="412.64" y="428.40" width="7.82" height="8.30" fill="#4046aa"/>
<rect x="419.86" y="428.40" width="7.82" height="8.30" fill="#4046aa"/>
<rect x="427.08" y="428.40" width="7.82" height="8.30" fill="#4046aa"/>
<rect x="434.30" y="428.40" width="7.22" height="8.30" fill="#4046aa"/>
<rect x="326.00" y="436.10" width="7.82" height="8.30" fill="#fefeff"/>
<rect x="333.22" y="436.10" width="7.82" height="8.30" fill="#eeedf8"/>
<rect x="340.44" y="436.10" width="7.82" height="8.30" fill="#fefeff"/>
<rect x="347.66" y="436.10" width="7.82" height="8.30" fill="#b0acda"/>
<rect x="354.88" y="436.10" width="7.82" height="8.30" fill="#5e5cb6"/>
<rect x="362.10" y="436.10" width="7.82" height="8.30" fill="#dcdaf0"/>
<rect x="369.32" y="436.10" width="7.82" height="8.30" fill="#b0acda"/>
<rect x="376.54" y="436.10" width="7.82" height="8.30" fill="#b0acda"/>
<rect x="383.76" y="436.10" width="7.82" height="8.30" fill="#fefeff"/>
<rect x="390.98" y="436.10" width="7.82" height="8.30" fill="#dcdaf0"/>
<rect x="398.20" y="436.10" width="7.82" height="8.30" fill="#fefeff"/>
<rect x="405.42" y="436.10" width="7.82" height="8.30" fill="#dcdaf0"/>
<rect x="412.64" y="436.10" width="7.82" height="8.30" fill="#4046aa"/>
<rect x="419.86" y="436.10" width="7.82" height="8.30" fill="#4046aa"/>
<rect x="427.08" y="436.10" width="7.82" height="8.30" fill="#4046aa"/>
<rect x="434.30" y="436.10" width="7.22" height="8.30" fill="#4046aa"/>
<rect x="326.00" y="443.80" width="7.82" height="8.30" fill="#fefeff"/>
<rect x="333.22" y="443.80" width="7.82" height="8.30" fill="#fefeff"/>
<rect x="340.44" y="443.80" width="7.82" height="8.30" fill="#fefeff"/>
<rect x="347.66" y="443.80" width="7.82" height="8.30" fill="#fefeff"/>
<rect x="354.88" y="443.80" width="7.82" height="8.30" fill="#fefeff"/>
<rect x="362.10" y="443.80" width="7.82" height="8.30" fill="#fefeff"/>
<rect x="369.32" y="443.80" width="7.82" height="8.30" fill="#eeedf8"/>
<rect x="376.54" y="443.80" width="7.82" height="8.30" fill="#b0acda"/>
<rect x="383.76" y="443.80" width="7.82" height="8.30" fill="#fefeff"/>
<rect x="390.98" y="443.80" width="7.82" height="8.30" fill="#fefeff"/>
<rect x="398.20" y="443.80" width="7.82" height="8.30" fill="#fefeff"/>
<rect x="405.42" y="443.80" width="7.82" height="8.30" fill="#fefeff"/>
<rect x="412.64" y="443.80" width="7.82" height="8.30" fill="#5e5cb6"/>
<rect x="419.86" y="443.80" width="7.82" height="8.30" fill="#4046aa"/>
<rect x="427.08" y="443.80" width="7.82" height="8.30" fill="#5e5cb6"/>
<rect x="434.30" y="443.80" width="7.22" height="8.30" fill="#2a3aa0"/>
<rect x="326.00" y="451.50" width="7.82" height="8.30" fill="#fefeff"/>
<rect x="333.22" y="451.50" width="7.82" height="8.30" fill="#fefeff"/>
<rect x="340.44" y="451.50" width="7.82" height="8.30" fill="#fefeff"/>
<rect x="347.66" y="451.50" width="7.82" height="8.30" fill="#fefeff"/>
<rect x="354.88" y="451.50" width="7.82" height="8.30" fill="#c8c5e6"/>
<rect x="362.10" y="451.50" width="7.82" height="8.30" fill="#dcdaf0"/>
<rect x="369.32" y="451.50" width="7.82" height="8.30" fill="#dcdaf0"/>
<rect x="376.54" y="451.50" width="7.82" height="8.30" fill="#b0acda"/>
<rect x="383.76" y="451.50" width="7.82" height="8.30" fill="#fefeff"/>
<rect x="390.98" y="451.50" width="7.82" height="8.30" fill="#fefeff"/>
<rect x="398.20" y="451.50" width="7.82" height="8.30" fill="#fefeff"/>
<rect x="405.42" y="451.50" width="7.82" height="8.30" fill="#fefeff"/>
<rect x="412.64" y="451.50" width="7.82" height="8.30" fill="#5e5cb6"/>
<rect x="419.86" y="451.50" width="7.82" height="8.30" fill="#4046aa"/>
<rect x="427.08" y="451.50" width="7.82" height="8.30" fill="#5e5cb6"/>
<rect x="434.30" y="451.50" width="7.22" height="8.30" fill="#2a3aa0"/>
<rect x="326.00" y="459.20" width="7.82" height="8.30" fill="#eeedf8"/>
<rect x="333.22" y="459.20" width="7.82" height="8.30" fill="#dcdaf0"/>
<rect x="340.44" y="459.20" width="7.82" height="8.30" fill="#eeedf8"/>
<rect x="347.66" y="459.20" width="7.82" height="8.30" fill="#dcdaf0"/>
<rect x="354.88" y="459.20" width="7.82" height="8.30" fill="#b0acda"/>
<rect x="362.10" y="459.20" width="7.82" height="8.30" fill="#b0acda"/>
<rect x="369.32" y="459.20" width="7.82" height="8.30" fill="#7a76c2"/>
<rect x="376.54" y="459.20" width="7.82" height="8.30" fill="#b0acda"/>
<rect x="383.76" y="459.20" width="7.82" height="8.30" fill="#fefeff"/>
<rect x="390.98" y="459.20" width="7.82" height="8.30" fill="#fefeff"/>
<rect x="398.20" y="459.20" width="7.82" height="8.30" fill="#fefeff"/>
<rect x="405.42" y="459.20" width="7.82" height="8.30" fill="#fefeff"/>
<rect x="412.64" y="459.20" width="7.82" height="8.30" fill="#5e5cb6"/>
<rect x="419.86" y="459.20" width="7.82" height="8.30" fill="#4046aa"/>
<rect x="427.08" y="459.20" width="7.82" height="8.30" fill="#9692ce"/>
<rect x="434.30" y="459.20" width="7.22" height="8.30" fill="#9692ce"/>
<rect x="326.00" y="466.90" width="7.82" height="8.30" fill="#dcdaf0"/>
<rect x="333.22" y="466.90" width="7.82" height="8.30" fill="#b0acda"/>
<rect x="340.44" y="466.90" width="7.82" height="8.30" fill="#fefeff"/>
<rect x="347.66" y="466.90" width="7.82" height="8.30" fill="#9692ce"/>
<rect x="354.88" y="466.90" width="7.82" height="8.30" fill="#5e5cb6"/>
<rect x="362.10" y="466.90" width="7.82" height="8.30" fill="#5e5cb6"/>
<rect x="369.32" y="466.90" width="7.82" height="8.30" fill="#7a76c2"/>
<rect x="376.54" y="466.90" width="7.82" height="8.30" fill="#7a76c2"/>
<rect x="383.76" y="466.90" width="7.82" height="8.30" fill="#c8c5e6"/>
<rect x="390.98" y="466.90" width="7.82" height="8.30" fill="#c8c5e6"/>
<rect x="398.20" y="466.90" width="7.82" height="8.30" fill="#dcdaf0"/>
<rect x="405.42" y="466.90" width="7.82" height="8.30" fill="#5e5cb6"/>
<rect x="412.64" y="466.90" width="7.82" height="8.30" fill="#5e5cb6"/>
<rect x="419.86" y="466.90" width="7.82" height="8.30" fill="#4046aa"/>
<rect x="427.08" y="466.90" width="7.82" height="8.30" fill="#7a76c2"/>
<rect x="434.30" y="466.90" width="7.22" height="8.30" fill="#c8c5e6"/>
<rect x="326.00" y="474.60" width="7.82" height="8.30" fill="#fefeff"/>
<rect x="333.22" y="474.60" width="7.82" height="8.30" fill="#eeedf8"/>
<rect x="340.44" y="474.60" width="7.82" height="8.30" fill="#fefeff"/>
<rect x="347.66" y="474.60" width="7.82" height="8.30" fill="#dcdaf0"/>
<rect x="354.88" y="474.60" width="7.82" height="8.30" fill="#c8c5e6"/>
<rect x="362.10" y="474.60" width="7.82" height="8.30" fill="#dcdaf0"/>
<rect x="369.32" y="474.60" width="7.82" height="8.30" fill="#5e5cb6"/>
<rect x="376.54" y="474.60" width="7.82" height="8.30" fill="#5e5cb6"/>
<rect x="383.76" y="474.60" width="7.82" height="8.30" fill="#7a76c2"/>
<rect x="390.98" y="474.60" width="7.82" height="8.30" fill="#5e5cb6"/>
<rect x="398.20" y="474.60" width="7.82" height="8.30" fill="#9692ce"/>
<rect x="405.42" y="474.60" width="7.82" height="8.30" fill="#4046aa"/>
<rect x="412.64" y="474.60" width="7.82" height="8.30" fill="#2a3aa0"/>
<rect x="419.86" y="474.60" width="7.82" height="8.30" fill="#9692ce"/>
<rect x="427.08" y="474.60" width="7.82" height="8.30" fill="#5e5cb6"/>
<rect x="434.30" y="474.60" width="7.22" height="8.30" fill="#2a3aa0"/>
<rect x="326.00" y="482.30" width="7.82" height="8.30" fill="#5e5cb6"/>
<rect x="333.22" y="482.30" width="7.82" height="8.30" fill="#9692ce"/>
<rect x="340.44" y="482.30" width="7.82" height="8.30" fill="#dcdaf0"/>
<rect x="347.66" y="482.30" width="7.82" height="8.30" fill="#4046aa"/>
<rect x="354.88" y="482.30" width="7.82" height="8.30" fill="#b0acda"/>
<rect x="362.10" y="482.30" width="7.82" height="8.30" fill="#2a3aa0"/>
<rect x="369.32" y="482.30" width="7.82" height="8.30" fill="#b0acda"/>
<rect x="376.54" y="482.30" width="7.82" height="8.30" fill="#7a76c2"/>
<rect x="383.76" y="482.30" width="7.82" height="8.30" fill="#5e5cb6"/>
<rect x="390.98" y="482.30" width="7.82" height="8.30" fill="#5e5cb6"/>
<rect x="398.20" y="482.30" width="7.82" height="8.30" fill="#7a76c2"/>
<rect x="405.42" y="482.30" width="7.82" height="8.30" fill="#4046aa"/>
<rect x="412.64" y="482.30" width="7.82" height="8.30" fill="#fefeff"/>
<rect x="419.86" y="482.30" width="7.82" height="8.30" fill="#fefeff"/>
<rect x="427.08" y="482.30" width="7.82" height="8.30" fill="#eeedf8"/>
<rect x="434.30" y="482.30" width="7.22" height="8.30" fill="#eeedf8"/>
<rect x="326.00" y="490.00" width="7.82" height="8.30" fill="#5e5cb6"/>
<rect x="333.22" y="490.00" width="7.82" height="8.30" fill="#5e5cb6"/>
<rect x="340.44" y="490.00" width="7.82" height="8.30" fill="#4046aa"/>
<rect x="347.66" y="490.00" width="7.82" height="8.30" fill="#4046aa"/>
<rect x="354.88" y="490.00" width="7.82" height="8.30" fill="#9692ce"/>
<rect x="362.10" y="490.00" width="7.82" height="8.30" fill="#7a76c2"/>
<rect x="369.32" y="490.00" width="7.82" height="8.30" fill="#5e5cb6"/>
<rect x="376.54" y="490.00" width="7.82" height="8.30" fill="#5e5cb6"/>
<rect x="383.76" y="490.00" width="7.82" height="8.30" fill="#2a3aa0"/>
<rect x="390.98" y="490.00" width="7.82" height="8.30" fill="#4046aa"/>
<rect x="398.20" y="490.00" width="7.82" height="8.30" fill="#5e5cb6"/>
<rect x="405.42" y="490.00" width="7.82" height="8.30" fill="#4046aa"/>
<rect x="412.64" y="490.00" width="7.82" height="8.30" fill="#eeedf8"/>
<rect x="419.86" y="490.00" width="7.82" height="8.30" fill="#fefeff"/>
<rect x="427.08" y="490.00" width="7.82" height="8.30" fill="#fefeff"/>
<rect x="434.30" y="490.00" width="7.22" height="8.30" fill="#fefeff"/>
<rect x="326.00" y="497.70" width="7.82" height="7.70" fill="#5e5cb6"/>
<rect x="333.22" y="497.70" width="7.82" height="7.70" fill="#2a3aa0"/>
<rect x="340.44" y="497.70" width="7.82" height="7.70" fill="#c8c5e6"/>
<rect x="347.66" y="497.70" width="7.82" height="7.70" fill="#2a3aa0"/>
<rect x="354.88" y="497.70" width="7.82" height="7.70" fill="#fefeff"/>
<rect x="362.10" y="497.70" width="7.82" height="7.70" fill="#4046aa"/>
<rect x="369.32" y="497.70" width="7.82" height="7.70" fill="#eeedf8"/>
<rect x="376.54" y="497.70" width="7.82" height="7.70" fill="#dcdaf0"/>
<rect x="383.76" y="497.70" width="7.82" height="7.70" fill="#dcdaf0"/>
<rect x="390.98" y="497.70" width="7.82" height="7.70" fill="#7a76c2"/>
<rect x="398.20" y="497.70" width="7.82" height="7.70" fill="#7a76c2"/>
<rect x="405.42" y="497.70" width="7.82" height="7.70" fill="#4046aa"/>
<rect x="412.64" y="497.70" width="7.82" height="7.70" fill="#4046aa"/>
<rect x="419.86" y="497.70" width="7.82" height="7.70" fill="#4046aa"/>
<rect x="427.08" y="497.70" width="7.82" height="7.70" fill="#c8c5e6"/>
<rect x="434.30" y="497.70" width="7.22" height="7.70" fill="#c8c5e6"/>
<path d="M333.22 259.00V505.40M340.44 259.00V505.40M347.66 259.00V505.40M354.88 259.00V505.40M362.10 259.00V505.40M369.32 259.00V505.40M376.54 259.00V505.40M383.76 259.00V505.40M390.98 259.00V505.40M398.20 259.00V505.40M405.42 259.00V505.40M412.64 259.00V505.40M419.86 259.00V505.40M427.08 259.00V505.40M434.30 259.00V505.40M326.00 266.70H441.52M326.00 274.40H441.52M326.00 282.10H441.52M326.00 289.80H441.52M326.00 297.50H441.52M326.00 305.20H441.52M326.00 312.90H441.52M326.00 320.60H441.52M326.00 328.30H441.52M326.00 336.00H441.52M326.00 343.70H441.52M326.00 351.40H441.52M326.00 359.10H441.52M326.00 366.80H441.52M326.00 374.50H441.52M326.00 382.20H441.52M326.00 389.90H441.52M326.00 397.60H441.52M326.00 405.30H441.52M326.00 413.00H441.52M326.00 420.70H441.52M326.00 428.40H441.52M326.00 436.10H441.52M326.00 443.80H441.52M326.00 451.50H441.52M326.00 459.20H441.52M326.00 466.90H441.52M326.00 474.60H441.52M326.00 482.30H441.52M326.00 490.00H441.52M326.00 497.70H441.52" stroke="#999" stroke-opacity="0.14" stroke-width="0.5" fill="none"/>
<text x="444.70" y="265.40" font-size="6.80" fill="#2e2e2e" letter-spacing="0.18">CCL/11Eotaxin</text>
<text x="444.70" y="273.13" font-size="6.80" fill="#2e2e2e" letter-spacing="0.18">IFN-γ</text>
<text x="444.70" y="280.86" font-size="6.80" fill="#2e2e2e" letter-spacing="0.18">IL-7</text>
<text x="444.70" y="288.59" font-size="6.80" fill="#2e2e2e" letter-spacing="0.18">IL-1α</text>
<text x="444.70" y="296.32" font-size="6.80" fill="#2e2e2e" letter-spacing="0.18">CXCL5/LIX</text>
<text x="444.70" y="304.05" font-size="6.80" fill="#2e2e2e" letter-spacing="0.18">IL-2</text>
<text x="444.70" y="311.78" font-size="6.80" fill="#2e2e2e" letter-spacing="0.18">CXCL1/KC</text>
<text x="444.70" y="319.51" font-size="6.80" fill="#2e2e2e" letter-spacing="0.18">IL-10</text>
<text x="444.70" y="327.24" font-size="6.80" fill="#2e2e2e" letter-spacing="0.18">IL-13</text>
<text x="444.70" y="334.97" font-size="6.80" fill="#2e2e2e" letter-spacing="0.18">GM-CSF</text>
<text x="444.70" y="342.70" font-size="6.80" fill="#2e2e2e" letter-spacing="0.18">IL-6</text>
<text x="444.70" y="350.43" font-size="6.80" fill="#2e2e2e" letter-spacing="0.18">IL-4</text>
<text x="444.70" y="358.16" font-size="6.80" fill="#2e2e2e" letter-spacing="0.18">CCL4/MIP1β</text>
<text x="444.70" y="365.89" font-size="6.80" fill="#2e2e2e" letter-spacing="0.18">IL-5</text>
<text x="444.70" y="373.62" font-size="6.80" fill="#2e2e2e" letter-spacing="0.18">IL-1β</text>
<text x="444.70" y="381.35" font-size="6.80" fill="#2e2e2e" letter-spacing="0.18">IL-12p40</text>
<text x="444.70" y="389.08" font-size="6.80" fill="#2e2e2e" letter-spacing="0.18">IL-17</text>
<text x="444.70" y="396.81" font-size="6.80" fill="#2e2e2e" letter-spacing="0.18">G-CSF</text>
<text x="444.70" y="404.54" font-size="6.80" fill="#2e2e2e" letter-spacing="0.18">IL-12p70</text>
<text x="444.70" y="412.27" font-size="6.80" fill="#2e2e2e" letter-spacing="0.18">M-CSF</text>
<text x="444.70" y="420.00" font-size="6.80" fill="#2e2e2e" letter-spacing="0.18">IL-3</text>
<text x="444.70" y="427.73" font-size="6.80" fill="#2e2e2e" letter-spacing="0.18">IL-15</text>
<text x="444.70" y="435.46" font-size="6.80" fill="#2e2e2e" letter-spacing="0.18">CCL2/MCP1</text>
<text x="444.70" y="443.19" font-size="6.80" fill="#2e2e2e" letter-spacing="0.18">CXCL2/MIP2</text>
<text x="444.70" y="450.92" font-size="6.80" fill="#2e2e2e" letter-spacing="0.18">LIF</text>
<text x="444.70" y="458.65" font-size="6.80" fill="#2e2e2e" letter-spacing="0.18">TNFα</text>
<text x="444.70" y="466.38" font-size="6.80" fill="#2e2e2e" letter-spacing="0.18">CXCL10/IP10</text>
<text x="444.70" y="474.11" font-size="6.80" fill="#2e2e2e" letter-spacing="0.18">CCL5/RANTES</text>
<text x="444.70" y="481.84" font-size="6.80" fill="#2e2e2e" letter-spacing="0.18">CCL3/MIP1α</text>
<text x="444.70" y="489.57" font-size="6.80" fill="#2e2e2e" letter-spacing="0.18">IL-9</text>
<text x="444.70" y="497.30" font-size="6.80" fill="#2e2e2e" letter-spacing="0.18">CXCL9/MIG</text>
<text x="444.70" y="505.03" font-size="6.80" fill="#2e2e2e" letter-spacing="0.18">VEGF</text>
<path d="M324.00 270.55H313.70M324.00 278.25H313.70M313.70 270.55V278.25M324.00 285.95H320.50M324.00 293.65H320.50M320.50 285.95V293.65M324.00 301.35H318.30M324.00 309.05H318.30M318.30 301.35V309.05M320.50 289.80H315.30M318.30 305.20H315.30M315.30 289.80V305.20M313.70 274.40H304.60M315.30 297.50H304.60M304.60 274.40V297.50M324.00 316.75H320.50M324.00 324.45H320.50M320.50 316.75V324.45M324.00 339.85H321.80M324.00 347.55H321.80M321.80 339.85V347.55M324.00 332.15H321.00M321.80 343.70H321.00M321.00 332.15V343.70M320.50 320.60H318.50M321.00 339.85H318.50M318.50 320.60V339.85M324.00 355.25H321.00M324.00 362.95H321.00M321.00 355.25V362.95M324.00 378.35H321.50M324.00 386.05H321.50M321.50 378.35V386.05M324.00 370.65H320.00M321.50 382.20H320.00M320.00 370.65V382.20M321.00 359.10H319.50M320.00 378.35H319.50M319.50 359.10V378.35M324.00 393.75H321.50M324.00 401.45H321.50M321.50 393.75V401.45M324.00 409.15H321.00M324.00 416.85H321.00M321.00 409.15V416.85M321.50 397.60H320.20M321.00 413.00H320.20M320.20 397.60V413.00M324.00 424.55H321.20M324.00 432.25H321.20M321.20 424.55V432.25M324.00 439.95H321.80M324.00 447.65H321.80M321.80 439.95V447.65M324.00 455.35H321.20M324.00 463.05H321.20M321.20 455.35V463.05M321.80 443.80H320.80M321.20 459.20H320.80M320.80 443.80V459.20M321.20 428.40H319.50M320.80 451.50H319.50M319.50 428.40V451.50M320.20 405.30H318.80M319.50 443.80H318.80M318.80 405.30V443.80M319.50 370.65H318.00M318.80 428.40H318.00M318.00 370.65V428.40M318.50 332.15H316.80M318.00 409.15H316.80M316.80 332.15V409.15M316.80 389.90H310.70M324.00 470.75H310.70M310.70 389.90V470.75M310.70 393.75H309.20M324.00 478.45H309.20M309.20 393.75V478.45M304.60 289.80H293.30M309.20 397.60H293.30M293.30 289.80V397.60M324.00 262.85H290.90M293.30 374.50H290.90M290.90 262.85V374.50M324.00 486.15H315.30M324.00 493.85H315.30M315.30 486.15V493.85M315.30 490.00H295.50M324.00 501.55H295.50M295.50 490.00V501.55M290.90 370.65H271.70M295.50 493.85H271.70M271.70 370.65V493.85" stroke="#888888" stroke-width="0.80" fill="none" stroke-linecap="square"/>
<defs><linearGradient id="g1624" x1="0" x2="1" y1="0" y2="0"><stop offset="0" stop-color="#ffffff"/><stop offset="0.3" stop-color="#b4b4d6"/><stop offset="0.5" stop-color="#4a4c9a"/><stop offset="0.62" stop-color="#2e3490"/><stop offset="1" stop-color="#2c3592"/></linearGradient></defs>
<rect x="277.90" y="510.00" width="43.30" height="3.50" fill="url(#g1624)" stroke="#333" stroke-width="0.4"/>
<path d="M273.90 515.90H280.90M318.20 515.90H326.20" stroke="#1a1a1a" stroke-width="1.1"/>
<text x="18.70" y="555.30" font-size="12.60" font-weight="bold" fill="#111" textLength="10.0" lengthAdjust="spacingAndGlyphs">C</text>
<text x="147.50" y="554.60" font-size="13.20" text-anchor="middle" fill="#222" textLength="31.0" lengthAdjust="spacingAndGlyphs">JAK2</text>
<text x="3" y="609.8" font-size="12" fill="#222" textLength="40" lengthAdjust="spacingAndGlyphs">Plasma</text>
<path d="M90.50 560.00V657.30H203.00" stroke="#1a1a1a" stroke-width="1.2" fill="none"/>
<path d="M95.60 657.30V660.50" stroke="#1a1a1a" stroke-width="0.9"/>
<text x="95.60" y="674.90" font-size="10.40" text-anchor="middle" fill="#2a2a2a">−5</text>
<path d="M132.00 657.30V660.50" stroke="#1a1a1a" stroke-width="0.9"/>
<text x="132.00" y="674.90" font-size="10.40" text-anchor="middle" fill="#2a2a2a">0</text>
<path d="M169.30 657.30V660.50" stroke="#1a1a1a" stroke-width="0.9"/>
<text x="169.30" y="674.90" font-size="10.40" text-anchor="middle" fill="#2a2a2a">5</text>
<path d="M86.70 576.30H90.50" stroke="#1a1a1a" stroke-width="0.9"/>
<text x="83.10" y="580.00" font-size="10.40" text-anchor="end" fill="#2a2a2a">4</text>
<path d="M86.70 604.00H90.50" stroke="#1a1a1a" stroke-width="0.9"/>
<text x="83.10" y="607.70" font-size="10.40" text-anchor="end" fill="#2a2a2a">0</text>
<path d="M86.70 632.80H90.50" stroke="#1a1a1a" stroke-width="0.9"/>
<text x="83.10" y="636.50" font-size="10.40" text-anchor="end" fill="#2a2a2a">−4</text>
<text transform="translate(57.60 604.50) rotate(-90)" font-size="11.8" text-anchor="middle" fill="#2a2a2a" textLength="55.0" lengthAdjust="spacingAndGlyphs">PC2 (12.4%)</text>
<text x="147.75" y="692.00" font-size="11.80" text-anchor="middle" fill="#2a2a2a" textLength="55.5" lengthAdjust="spacingAndGlyphs">PC1 (54.8%)</text>
<ellipse cx="121.90" cy="603.20" rx="23.50" ry="15.00" transform="rotate(-40.00 121.90 603.20)" fill="none" stroke="#b3173d" stroke-width="1.20"/>
<ellipse cx="112.00" cy="600.70" rx="28.20" ry="4.20" transform="rotate(-73.60 112.00 600.70)" fill="none" stroke="#3fb0e0" stroke-width="1.20"/>
<ellipse cx="146.90" cy="605.00" rx="35.80" ry="12.40" transform="rotate(-28.90 146.90 605.00)" fill="none" stroke="#3aa83a" stroke-width="1.20"/>
<ellipse cx="149.40" cy="610.00" rx="49.00" ry="13.40" transform="rotate(-23.10 149.40 610.00)" fill="none" stroke="#4a1c6c" stroke-width="1.20"/>
<circle cx="131.00" cy="593.60" r="2.20" fill="#b3173d"/>
<circle cx="120.80" cy="597.20" r="2.20" fill="#b3173d"/>
<circle cx="117.80" cy="603.70" r="2.20" fill="#b3173d"/>
<circle cx="109.80" cy="610.50" r="2.20" fill="#b3173d"/>
<circle cx="128.40" cy="611.50" r="2.20" fill="#b3173d"/>
<circle cx="116.20" cy="591.40" r="2.20" fill="#3fb0e0"/>
<circle cx="113.00" cy="596.70" r="2.20" fill="#3fb0e0"/>
<circle cx="114.50" cy="598.80" r="2.20" fill="#3fb0e0"/>
<circle cx="107.70" cy="616.80" r="2.20" fill="#3fb0e0"/>
<circle cx="143.70" cy="599.30" r="2.20" fill="#3aa83a"/>
<circle cx="161.20" cy="598.40" r="2.20" fill="#3aa83a"/>
<circle cx="152.80" cy="605.80" r="2.20" fill="#3aa83a"/>
<circle cx="154.90" cy="596.30" r="2.20" fill="#4a1c6c"/>
<circle cx="172.90" cy="608.80" r="2.20" fill="#4a1c6c"/>
<circle cx="132.00" cy="617.30" r="2.20" fill="#4a1c6c"/>
<circle cx="138.40" cy="615.80" r="2.20" fill="#4a1c6c"/>
<text x="208.70" y="585.60" font-size="8.90" fill="#333" textLength="24.2" lengthAdjust="spacingAndGlyphs">Group</text>
<circle cx="210.70" cy="595.60" r="2.5" fill="#b3173d"/>
<text x="217.30" y="598.70" font-size="8.70" fill="#333">V617F early</text>
<circle cx="210.70" cy="608.80" r="2.5" fill="#3fb0e0"/>
<text x="217.30" y="611.90" font-size="8.70" fill="#333">V617F late</text>
<circle cx="210.70" cy="622.00" r="2.5" fill="#3aa83a"/>
<text x="217.30" y="625.10" font-size="8.70" fill="#333">WT early</text>
<circle cx="210.70" cy="635.20" r="2.5" fill="#4a1c6c"/>
<text x="217.30" y="638.30" font-size="8.70" fill="#333">WT late</text>
<text x="7.5" y="758.8" font-size="12" fill="#222" textLength="28.5" lengthAdjust="spacingAndGlyphs">Bone</text>
<text x="0" y="774" font-size="12" fill="#222" textLength="43" lengthAdjust="spacingAndGlyphs">marrow</text>
<path d="M90.50 712.50V816.20H203.00" stroke="#1a1a1a" stroke-width="1.2" fill="none"/>
<path d="M102.50 816.20V819.40" stroke="#1a1a1a" stroke-width="0.9"/>
<text x="102.50" y="833.80" font-size="10.40" text-anchor="middle" fill="#2a2a2a">−10</text>
<path d="M141.60 816.20V819.40" stroke="#1a1a1a" stroke-width="0.9"/>
<text x="141.60" y="833.80" font-size="10.40" text-anchor="middle" fill="#2a2a2a">0</text>
<path d="M180.40 816.20V819.40" stroke="#1a1a1a" stroke-width="0.9"/>
<text x="180.40" y="833.80" font-size="10.40" text-anchor="middle" fill="#2a2a2a">10</text>
<path d="M86.70 724.25H90.50" stroke="#1a1a1a" stroke-width="0.9"/>
<text x="83.10" y="727.95" font-size="10.40" text-anchor="end" fill="#2a2a2a">10</text>
<path d="M86.70 743.00H90.50" stroke="#1a1a1a" stroke-width="0.9"/>
<text x="83.10" y="746.70" font-size="10.40" text-anchor="end" fill="#2a2a2a">5</text>
<path d="M86.70 761.75H90.50" stroke="#1a1a1a" stroke-width="0.9"/>
<text x="83.10" y="765.45" font-size="10.40" text-anchor="end" fill="#2a2a2a">0</text>
<path d="M86.70 780.50H90.50" stroke="#1a1a1a" stroke-width="0.9"/>
<text x="83.10" y="784.20" font-size="10.40" text-anchor="end" fill="#2a2a2a">−5</text>
<path d="M86.70 799.25H90.50" stroke="#1a1a1a" stroke-width="0.9"/>
<text x="83.10" y="802.95" font-size="10.40" text-anchor="end" fill="#2a2a2a">−10</text>
<text transform="translate(57.60 762.00) rotate(-90)" font-size="11.8" text-anchor="middle" fill="#2a2a2a" textLength="54.0" lengthAdjust="spacingAndGlyphs">PC2 (14.7%)</text>
<text x="147.75" y="851.60" font-size="11.80" text-anchor="middle" fill="#2a2a2a" textLength="55.5" lengthAdjust="spacingAndGlyphs">PC1 (53.3%)</text>
<ellipse cx="163.65" cy="761.55" rx="46.60" ry="13.30" transform="rotate(-76.00 163.65 761.55)" fill="none" stroke="#3fb0e0" stroke-width="1.20"/>
<ellipse cx="127.60" cy="759.30" rx="13.90" ry="1.90" transform="rotate(-8.00 127.60 759.30)" fill="none" stroke="#3aa83a" stroke-width="1.20"/>
<ellipse cx="129.30" cy="761.30" rx="6.30" ry="2.00" transform="rotate(32.00 129.30 761.30)" fill="none" stroke="#4a1c6c" stroke-width="1.20"/>
<ellipse cx="148.00" cy="764.20" rx="12.00" ry="0.60" transform="rotate(16.20 148.00 764.20)" fill="none" stroke="#b3173d" stroke-width="1.70"/>
<circle cx="161.20" cy="747.70" r="2.20" fill="#3fb0e0"/>
<circle cx="172.10" cy="754.00" r="2.20" fill="#3fb0e0"/>
<circle cx="159.60" cy="782.90" r="2.20" fill="#3fb0e0"/>
<circle cx="138.10" cy="761.70" r="2.20" fill="#b3173d"/>
<circle cx="146.20" cy="763.10" r="2.20" fill="#b3173d"/>
<circle cx="151.00" cy="765.00" r="2.20" fill="#b3173d"/>
<circle cx="125.80" cy="759.40" r="1.50" fill="#2a3a2a"/>
<circle cx="123.50" cy="758.60" r="1.50" fill="#2a3a2a"/>
<circle cx="130.50" cy="762.50" r="1.60" fill="#4a1c6c"/>
<circle cx="133.50" cy="764.20" r="1.60" fill="#4a1c6c"/>
<text x="208.70" y="745.00" font-size="8.90" fill="#333" textLength="24.2" lengthAdjust="spacingAndGlyphs">Group</text>
<circle cx="210.70" cy="755.00" r="2.5" fill="#b3173d"/>
<text x="217.30" y="758.10" font-size="8.70" fill="#333">V617F early</text>
<circle cx="210.70" cy="768.20" r="2.5" fill="#3fb0e0"/>
<text x="217.30" y="771.30" font-size="8.70" fill="#333">V617F late</text>
<circle cx="210.70" cy="781.40" r="2.5" fill="#3aa83a"/>
<text x="217.30" y="784.50" font-size="8.70" fill="#333">WT early</text>
<circle cx="210.70" cy="794.60" r="2.5" fill="#4a1c6c"/>
<text x="217.30" y="797.70" font-size="8.70" fill="#333">WT late</text>
<text x="286.20" y="555.80" font-size="12.60" font-weight="bold" fill="#111" textLength="11.3" lengthAdjust="spacingAndGlyphs">D</text>
<text x="402.30" y="554.60" font-size="13.20" text-anchor="middle" fill="#222" textLength="24.2" lengthAdjust="spacingAndGlyphs">MPL</text>
<path d="M346.70 560.60V657.70H455.00" stroke="#1a1a1a" stroke-width="1.2" fill="none"/>
<path d="M366.00 657.70V660.90" stroke="#1a1a1a" stroke-width="0.9"/>
<text x="366.00" y="675.30" font-size="10.40" text-anchor="middle" fill="#2a2a2a">−5</text>
<path d="M391.20 657.70V660.90" stroke="#1a1a1a" stroke-width="0.9"/>
<text x="391.20" y="675.30" font-size="10.40" text-anchor="middle" fill="#2a2a2a">0</text>
<path d="M415.50 657.70V660.90" stroke="#1a1a1a" stroke-width="0.9"/>
<text x="415.50" y="675.30" font-size="10.40" text-anchor="middle" fill="#2a2a2a">5</text>
<path d="M441.40 657.70V660.90" stroke="#1a1a1a" stroke-width="0.9"/>
<text x="441.40" y="675.30" font-size="10.40" text-anchor="middle" fill="#2a2a2a">10</text>
<path d="M342.90 572.70H346.70" stroke="#1a1a1a" stroke-width="0.9"/>
<text x="339.30" y="576.40" font-size="10.40" text-anchor="end" fill="#2a2a2a">5</text>
<path d="M342.90 598.30H346.70" stroke="#1a1a1a" stroke-width="0.9"/>
<text x="339.30" y="602.00" font-size="10.40" text-anchor="end" fill="#2a2a2a">0</text>
<path d="M342.90 623.90H346.70" stroke="#1a1a1a" stroke-width="0.9"/>
<text x="339.30" y="627.60" font-size="10.40" text-anchor="end" fill="#2a2a2a">−5</text>
<path d="M342.90 649.40H346.70" stroke="#1a1a1a" stroke-width="0.9"/>
<text x="339.30" y="653.10" font-size="10.40" text-anchor="end" fill="#2a2a2a">−10</text>
<text transform="translate(313.40 611.50) rotate(-90)" font-size="11.8" text-anchor="middle" fill="#2a2a2a" textLength="56.0" lengthAdjust="spacingAndGlyphs">PC2 (15.3%)</text>
<text x="403.20" y="692.00" font-size="11.80" text-anchor="middle" fill="#2a2a2a" textLength="57.0" lengthAdjust="spacingAndGlyphs">PC1 (33.7 %)</text>
<ellipse cx="389.40" cy="602.90" rx="46.20" ry="15.60" transform="rotate(59.80 389.40 602.90)" fill="none" stroke="#b3173d" stroke-width="1.20"/>
<ellipse cx="411.35" cy="589.70" rx="34.60" ry="9.50" transform="rotate(-6.20 411.35 589.70)" fill="none" stroke="#3fb0e0" stroke-width="1.20"/>
<ellipse cx="375.50" cy="593.60" rx="21.30" ry="3.50" transform="rotate(14.10 375.50 593.60)" fill="none" stroke="#3aa83a" stroke-width="1.20"/>
<ellipse cx="389.45" cy="607.30" rx="21.20" ry="12.30" transform="rotate(30.70 389.45 607.30)" fill="none" stroke="#4a1c6c" stroke-width="1.20"/>
<circle cx="373.50" cy="584.60" r="2.20" fill="#b3173d"/>
<circle cx="395.20" cy="596.20" r="2.20" fill="#b3173d"/>
<circle cx="391.90" cy="607.70" r="2.20" fill="#b3173d"/>
<circle cx="397.10" cy="624.40" r="2.20" fill="#b3173d"/>
<circle cx="394.20" cy="587.90" r="2.20" fill="#3fb0e0"/>
<circle cx="415.80" cy="588.50" r="2.20" fill="#3fb0e0"/>
<circle cx="426.90" cy="586.90" r="2.20" fill="#3fb0e0"/>
<circle cx="406.70" cy="595.60" r="2.20" fill="#3fb0e0"/>
<circle cx="369.20" cy="590.80" r="2.20" fill="#3aa83a"/>
<circle cx="371.50" cy="594.20" r="2.20" fill="#3aa83a"/>
<circle cx="386.50" cy="596.20" r="2.20" fill="#3aa83a"/>
<circle cx="384.20" cy="600.40" r="2.20" fill="#4a1c6c"/>
<circle cx="388.10" cy="604.20" r="2.20" fill="#4a1c6c"/>
<circle cx="386.90" cy="612.90" r="2.20" fill="#4a1c6c"/>
<circle cx="401.50" cy="611.00" r="2.20" fill="#4a1c6c"/>
<text x="464.00" y="586.00" font-size="8.90" fill="#333" textLength="24.2" lengthAdjust="spacingAndGlyphs">Group</text>
<circle cx="466.00" cy="596.00" r="2.5" fill="#b3173d"/>
<text x="472.60" y="599.10" font-size="8.70" fill="#333">W515L early</text>
<circle cx="466.00" cy="609.20" r="2.5" fill="#3fb0e0"/>
<text x="472.60" y="612.30" font-size="8.70" fill="#333">W515L late</text>
<circle cx="466.00" cy="622.40" r="2.5" fill="#3aa83a"/>
<text x="472.60" y="625.50" font-size="8.70" fill="#333">WT early</text>
<circle cx="466.00" cy="635.60" r="2.5" fill="#4a1c6c"/>
<text x="472.60" y="638.70" font-size="8.70" fill="#333">WT late</text>
<path d="M346.25 703.75V817.00H459.40" stroke="#1a1a1a" stroke-width="1.2" fill="none"/>
<path d="M352.50 817.00V820.20" stroke="#1a1a1a" stroke-width="0.9"/>
<text x="352.50" y="834.60" font-size="10.40" text-anchor="middle" fill="#2a2a2a">10</text>
<path d="M379.25 817.00V820.20" stroke="#1a1a1a" stroke-width="0.9"/>
<text x="379.25" y="834.60" font-size="10.40" text-anchor="middle" fill="#2a2a2a">5</text>
<path d="M406.30 817.00V820.20" stroke="#1a1a1a" stroke-width="0.9"/>
<text x="406.30" y="834.60" font-size="10.40" text-anchor="middle" fill="#2a2a2a">0</text>
<path d="M433.80 817.00V820.20" stroke="#1a1a1a" stroke-width="0.9"/>
<text x="433.80" y="834.60" font-size="10.40" text-anchor="middle" fill="#2a2a2a">5</text>
<path d="M342.45 705.00H346.25" stroke="#1a1a1a" stroke-width="0.9"/>
<text x="338.85" y="708.70" font-size="10.40" text-anchor="end" fill="#2a2a2a">10</text>
<path d="M342.45 734.25H346.25" stroke="#1a1a1a" stroke-width="0.9"/>
<text x="338.85" y="737.95" font-size="10.40" text-anchor="end" fill="#2a2a2a">5</text>
<path d="M342.45 763.25H346.25" stroke="#1a1a1a" stroke-width="0.9"/>
<text x="338.85" y="766.95" font-size="10.40" text-anchor="end" fill="#2a2a2a">0</text>
<path d="M342.45 792.50H346.25" stroke="#1a1a1a" stroke-width="0.9"/>
<text x="338.85" y="796.20" font-size="10.40" text-anchor="end" fill="#2a2a2a">−5</text>
<text transform="translate(319.50 749.40) rotate(-90)" font-size="11.8" text-anchor="middle" fill="#2a2a2a" textLength="54.0" lengthAdjust="spacingAndGlyphs">PC2 (16.1%)</text>
<text x="403.70" y="851.60" font-size="11.80" text-anchor="middle" fill="#2a2a2a" textLength="55.0" lengthAdjust="spacingAndGlyphs">PC1 (62.5%)</text>
<ellipse cx="381.95" cy="751.85" rx="41.50" ry="10.50" transform="rotate(54.10 381.95 751.85)" fill="none" stroke="#3aa83a" stroke-width="1.20"/>
<ellipse cx="390.85" cy="775.40" rx="34.30" ry="3.50" transform="rotate(52.30 390.85 775.40)" fill="none" stroke="#4a1c6c" stroke-width="1.20"/>
<ellipse cx="414.45" cy="765.95" rx="33.80" ry="12.40" transform="rotate(-49.00 414.45 765.95)" fill="none" stroke="#b3173d" stroke-width="1.20"/>
<ellipse cx="440.40" cy="757.60" rx="5.50" ry="1.80" transform="rotate(25.00 440.40 757.60)" fill="none" stroke="#3fb0e0" stroke-width="1.80"/>
<circle cx="372.10" cy="736.90" r="2.20" fill="#3aa83a"/>
<circle cx="374.60" cy="752.30" r="2.20" fill="#3aa83a"/>
<circle cx="386.20" cy="752.30" r="2.20" fill="#3aa83a"/>
<circle cx="396.20" cy="773.10" r="2.20" fill="#3aa83a"/>
<circle cx="381.70" cy="766.70" r="2.20" fill="#4a1c6c"/>
<circle cx="385.60" cy="765.80" r="2.20" fill="#4a1c6c"/>
<circle cx="399.60" cy="780.20" r="2.20" fill="#4a1c6c"/>
<circle cx="399.60" cy="782.70" r="2.20" fill="#4a1c6c"/>
<circle cx="417.30" cy="753.80" r="2.20" fill="#b3173d"/>
<circle cx="418.80" cy="764.80" r="2.20" fill="#b3173d"/>
<circle cx="420.80" cy="767.30" r="2.20" fill="#b3173d"/>
<circle cx="436.20" cy="755.60" r="1.80" fill="#3fb0e0"/>
<circle cx="438.60" cy="756.80" r="1.80" fill="#3fb0e0"/>
<circle cx="441.20" cy="757.90" r="1.80" fill="#3fb0e0"/>
<circle cx="443.80" cy="759.00" r="1.80" fill="#3fb0e0"/>
<circle cx="445.60" cy="759.90" r="1.80" fill="#3fb0e0"/>
<text x="464.00" y="737.10" font-size="8.90" fill="#333" textLength="24.2" lengthAdjust="spacingAndGlyphs">Group</text>
<circle cx="466.00" cy="747.10" r="2.5" fill="#b3173d"/>
<text x="472.60" y="750.20" font-size="8.70" fill="#333">W515L early</text>
<circle cx="466.00" cy="760.30" r="2.5" fill="#3fb0e0"/>
<text x="472.60" y="763.40" font-size="8.70" fill="#333">W515L late</text>
<circle cx="466.00" cy="773.50" r="2.5" fill="#3aa83a"/>
<text x="472.60" y="776.60" font-size="8.70" fill="#333">WT early</text>
<circle cx="466.00" cy="786.70" r="2.5" fill="#4a1c6c"/>
<text x="472.60" y="789.80" font-size="8.70" fill="#333">WT late</text>
</svg></body></html>
